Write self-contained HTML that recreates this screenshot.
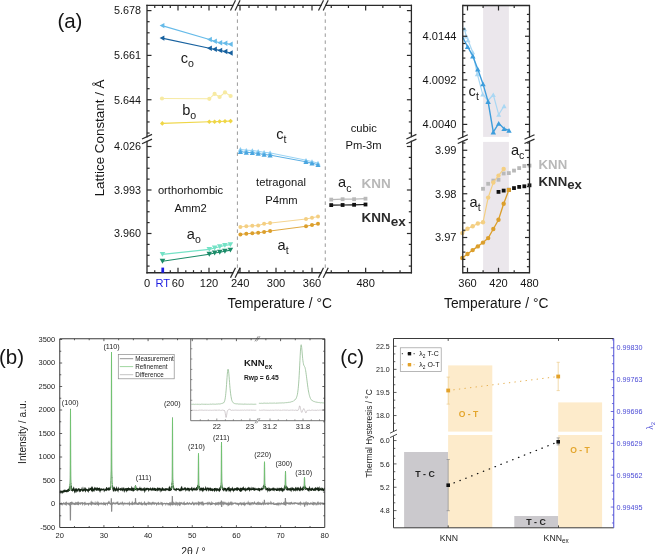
<!DOCTYPE html>
<html><head><meta charset="utf-8"><style>
html,body{margin:0;padding:0;background:#fff;}
svg{display:block;filter:blur(0.3px);font-family:"Liberation Sans", sans-serif;}
</style></head><body>
<svg width="656" height="554" viewBox="0 0 656 554">
<rect width="656" height="554" fill="#fff"/>
<line x1="237.4" y1="12.4" x2="237.4" y2="271.75" stroke="#999999" stroke-width="1" stroke-dasharray="3.5 3.5"/>
<line x1="325.25" y1="12.4" x2="325.25" y2="271.75" stroke="#999999" stroke-width="1" stroke-dasharray="3.5 3.5"/>
<polyline points="162,25.6 209.5,39.5 214.5,41.2 219.8,42.8 225,43.2 230.3,44.2" fill="none" stroke="#66bbe9" stroke-width="1.1" />
<path d="M159.62,25.6L164.38,22.9L164.38,28.3Z" fill="#66bbe9"/>
<path d="M207.12,39.5L211.88,36.8L211.88,42.2Z" fill="#66bbe9"/>
<path d="M212.12,41.2L216.88,38.5L216.88,43.9Z" fill="#66bbe9"/>
<path d="M217.42,42.8L222.18,40.1L222.18,45.5Z" fill="#66bbe9"/>
<path d="M222.62,43.2L227.38,40.5L227.38,45.9Z" fill="#66bbe9"/>
<path d="M227.92,44.2L232.68,41.5L232.68,46.9Z" fill="#66bbe9"/>
<polyline points="162,38.1 209.5,48.2 214.5,49.2 219.8,50.4 225,51.5 230.3,53" fill="none" stroke="#17619f" stroke-width="1.1" />
<path d="M159.62,38.1L164.38,35.4L164.38,40.8Z" fill="#17619f"/>
<path d="M207.12,48.2L211.88,45.5L211.88,50.9Z" fill="#17619f"/>
<path d="M212.12,49.2L216.88,46.5L216.88,51.9Z" fill="#17619f"/>
<path d="M217.42,50.4L222.18,47.7L222.18,53.1Z" fill="#17619f"/>
<path d="M222.62,51.5L227.38,48.8L227.38,54.2Z" fill="#17619f"/>
<path d="M227.92,53L232.68,50.3L232.68,55.7Z" fill="#17619f"/>
<polyline points="162,98.5 209.3,98.8 214.6,93.9 219.6,97 225,92.4 230.6,96" fill="none" stroke="#f7eaa2" stroke-width="1.1" />
<circle cx="162" cy="98.5" r="2.1" fill="#f7eaa2"/>
<circle cx="209.3" cy="98.8" r="2.1" fill="#f7eaa2"/>
<circle cx="214.6" cy="93.9" r="2.1" fill="#f7eaa2"/>
<circle cx="219.6" cy="97" r="2.1" fill="#f7eaa2"/>
<circle cx="225" cy="92.4" r="2.1" fill="#f7eaa2"/>
<circle cx="230.6" cy="96" r="2.1" fill="#f7eaa2"/>
<polyline points="162.3,123.4 209.3,121.8 214.6,121.7 219.6,121.5 225,121.3 230.6,121.1" fill="none" stroke="#efd646" stroke-width="1.1" />
<path d="M162.3,121.1L164.6,123.4L162.3,125.7L160,123.4Z" fill="#efd646"/>
<path d="M209.3,119.5L211.6,121.8L209.3,124.1L207,121.8Z" fill="#efd646"/>
<path d="M214.6,119.4L216.9,121.7L214.6,124L212.3,121.7Z" fill="#efd646"/>
<path d="M219.6,119.2L221.9,121.5L219.6,123.8L217.3,121.5Z" fill="#efd646"/>
<path d="M225,119L227.3,121.3L225,123.6L222.7,121.3Z" fill="#efd646"/>
<path d="M230.6,118.8L232.9,121.1L230.6,123.4L228.3,121.1Z" fill="#efd646"/>
<polyline points="162.5,254.4 209.3,249.4 214.65,248 219.8,246.8 224.9,245.4 230.4,244.6" fill="none" stroke="#74e2c6" stroke-width="1.1" />
<path d="M162.5,256.86L165.3,251.94L159.7,251.94Z" fill="#74e2c6"/>
<path d="M209.3,251.86L212.1,246.94L206.5,246.94Z" fill="#74e2c6"/>
<path d="M214.65,250.46L217.45,245.54L211.85,245.54Z" fill="#74e2c6"/>
<path d="M219.8,249.26L222.6,244.34L217,244.34Z" fill="#74e2c6"/>
<path d="M224.9,247.86L227.7,242.94L222.1,242.94Z" fill="#74e2c6"/>
<path d="M230.4,247.06L233.2,242.14L227.6,242.14Z" fill="#74e2c6"/>
<polyline points="162.5,261.2 209.3,254.2 214.65,253 219.8,252.3 224.9,251.2 230.4,250.1" fill="none" stroke="#1b8c69" stroke-width="1.1" />
<path d="M162.5,263.66L165.3,258.74L159.7,258.74Z" fill="#1b8c69"/>
<path d="M209.3,256.66L212.1,251.74L206.5,251.74Z" fill="#1b8c69"/>
<path d="M214.65,255.46L217.45,250.54L211.85,250.54Z" fill="#1b8c69"/>
<path d="M219.8,254.76L222.6,249.84L217,249.84Z" fill="#1b8c69"/>
<path d="M224.9,253.66L227.7,248.74L222.1,248.74Z" fill="#1b8c69"/>
<path d="M230.4,252.56L233.2,247.64L227.6,247.64Z" fill="#1b8c69"/>
<polyline points="240.4,149.4 246.3,150.2 252.3,150.5 258.2,151.3 264.1,152.3 270.1,152.9 306,160.2 312,161.6 318,163.1" fill="none" stroke="#8ccdf2" stroke-width="0.9" />
<path d="M240.4,147.11L243,151.69L237.8,151.69Z" fill="#8ccdf2"/>
<path d="M246.3,147.91L248.9,152.49L243.7,152.49Z" fill="#8ccdf2"/>
<path d="M252.3,148.21L254.9,152.79L249.7,152.79Z" fill="#8ccdf2"/>
<path d="M258.2,149.01L260.8,153.59L255.6,153.59Z" fill="#8ccdf2"/>
<path d="M264.1,150.01L266.7,154.59L261.5,154.59Z" fill="#8ccdf2"/>
<path d="M270.1,150.61L272.7,155.19L267.5,155.19Z" fill="#8ccdf2"/>
<path d="M306,157.91L308.6,162.49L303.4,162.49Z" fill="#8ccdf2"/>
<path d="M312,159.31L314.6,163.89L309.4,163.89Z" fill="#8ccdf2"/>
<path d="M318,160.81L320.6,165.39L315.4,165.39Z" fill="#8ccdf2"/>
<polyline points="240.4,151.6 246.3,152.4 252.3,152.7 258.2,153.5 264.1,154.5 270.1,155.1 306,161.8 312,163.2 318,164.7" fill="none" stroke="#4aa6e0" stroke-width="0.9" />
<path d="M240.4,149.31L243,153.89L237.8,153.89Z" fill="#4aa6e0"/>
<path d="M246.3,150.11L248.9,154.69L243.7,154.69Z" fill="#4aa6e0"/>
<path d="M252.3,150.41L254.9,154.99L249.7,154.99Z" fill="#4aa6e0"/>
<path d="M258.2,151.21L260.8,155.79L255.6,155.79Z" fill="#4aa6e0"/>
<path d="M264.1,152.21L266.7,156.79L261.5,156.79Z" fill="#4aa6e0"/>
<path d="M270.1,152.81L272.7,157.39L267.5,157.39Z" fill="#4aa6e0"/>
<path d="M306,159.51L308.6,164.09L303.4,164.09Z" fill="#4aa6e0"/>
<path d="M312,160.91L314.6,165.49L309.4,165.49Z" fill="#4aa6e0"/>
<path d="M318,162.41L320.6,166.99L315.4,166.99Z" fill="#4aa6e0"/>
<polyline points="240.4,226.9 246.3,226.3 252.3,225.8 258.2,225.5 264.1,223.8 270.1,223.1 306,219 312,217.8 318,216.5" fill="none" stroke="#f4cf82" stroke-width="0.9" />
<circle cx="240.4" cy="226.9" r="2" fill="#f4cf82"/>
<circle cx="246.3" cy="226.3" r="2" fill="#f4cf82"/>
<circle cx="252.3" cy="225.8" r="2" fill="#f4cf82"/>
<circle cx="258.2" cy="225.5" r="2" fill="#f4cf82"/>
<circle cx="264.1" cy="223.8" r="2" fill="#f4cf82"/>
<circle cx="270.1" cy="223.1" r="2" fill="#f4cf82"/>
<circle cx="306" cy="219" r="2" fill="#f4cf82"/>
<circle cx="312" cy="217.8" r="2" fill="#f4cf82"/>
<circle cx="318" cy="216.5" r="2" fill="#f4cf82"/>
<polyline points="240.4,234.4 246.3,233.8 252.3,233.3 258.2,232.8 264.1,231.9 270.1,231 306,226.3 312,225 318,223.8" fill="none" stroke="#dc9f2c" stroke-width="0.9" />
<circle cx="240.4" cy="234.4" r="2" fill="#dc9f2c"/>
<circle cx="246.3" cy="233.8" r="2" fill="#dc9f2c"/>
<circle cx="252.3" cy="233.3" r="2" fill="#dc9f2c"/>
<circle cx="258.2" cy="232.8" r="2" fill="#dc9f2c"/>
<circle cx="264.1" cy="231.9" r="2" fill="#dc9f2c"/>
<circle cx="270.1" cy="231" r="2" fill="#dc9f2c"/>
<circle cx="306" cy="226.3" r="2" fill="#dc9f2c"/>
<circle cx="312" cy="225" r="2" fill="#dc9f2c"/>
<circle cx="318" cy="223.8" r="2" fill="#dc9f2c"/>
<polyline points="331.2,199.6 342.6,199.2 354.1,199.2 365.5,198.7" fill="none" stroke="#b9b9b9" stroke-width="1.2" />
<rect x="329.3" y="197.7" width="3.8" height="3.8" fill="#b9b9b9" />
<rect x="340.7" y="197.3" width="3.8" height="3.8" fill="#b9b9b9" />
<rect x="352.2" y="197.3" width="3.8" height="3.8" fill="#b9b9b9" />
<rect x="363.6" y="196.8" width="3.8" height="3.8" fill="#b9b9b9" />
<polyline points="331.2,205.1 342.6,205 354.1,204.8 365.5,204.5" fill="none" stroke="#111" stroke-width="1.2" />
<rect x="329.3" y="203.2" width="3.8" height="3.8" fill="#111" />
<rect x="340.7" y="203.1" width="3.8" height="3.8" fill="#111" />
<rect x="352.2" y="202.9" width="3.8" height="3.8" fill="#111" />
<rect x="363.6" y="202.6" width="3.8" height="3.8" fill="#111" />
<line x1="147" y1="5.4" x2="232.6" y2="5.4" stroke="#2a2a2a" stroke-width="1.3" stroke-linecap="square"/>
<line x1="237.7" y1="5.4" x2="320.9" y2="5.4" stroke="#2a2a2a" stroke-width="1.3" stroke-linecap="square"/>
<line x1="325.8" y1="5.4" x2="411.4" y2="5.4" stroke="#2a2a2a" stroke-width="1.3" stroke-linecap="square"/>
<line x1="147" y1="272.75" x2="232.6" y2="272.75" stroke="#2a2a2a" stroke-width="1.3" stroke-linecap="square"/>
<line x1="237.7" y1="272.75" x2="320.9" y2="272.75" stroke="#2a2a2a" stroke-width="1.3" stroke-linecap="square"/>
<line x1="325.8" y1="272.75" x2="411.4" y2="272.75" stroke="#2a2a2a" stroke-width="1.3" stroke-linecap="square"/>
<line x1="147" y1="5.4" x2="147" y2="136.8" stroke="#2a2a2a" stroke-width="1.3" stroke-linecap="square"/>
<line x1="147" y1="141.3" x2="147" y2="272.75" stroke="#2a2a2a" stroke-width="1.3" stroke-linecap="square"/>
<line x1="411.4" y1="5.4" x2="411.4" y2="136.6" stroke="#2a2a2a" stroke-width="1.3" stroke-linecap="square"/>
<line x1="411.4" y1="141.3" x2="411.4" y2="272.75" stroke="#2a2a2a" stroke-width="1.3" stroke-linecap="square"/>
<line x1="230.5" y1="10.5" x2="235.5" y2="0.3" stroke="#2a2a2a" stroke-width="1.2" />
<line x1="235.1" y1="10.5" x2="240.1" y2="0.3" stroke="#2a2a2a" stroke-width="1.2" />
<line x1="318.5" y1="10.5" x2="323.5" y2="0.3" stroke="#2a2a2a" stroke-width="1.2" />
<line x1="323.2" y1="10.5" x2="328.2" y2="0.3" stroke="#2a2a2a" stroke-width="1.2" />
<line x1="230.5" y1="277.85" x2="235.5" y2="267.65" stroke="#2a2a2a" stroke-width="1.2" />
<line x1="235.1" y1="277.85" x2="240.1" y2="267.65" stroke="#2a2a2a" stroke-width="1.2" />
<line x1="318.5" y1="277.85" x2="323.5" y2="267.65" stroke="#2a2a2a" stroke-width="1.2" />
<line x1="323.2" y1="277.85" x2="328.2" y2="267.65" stroke="#2a2a2a" stroke-width="1.2" />
<line x1="142" y1="139" x2="152" y2="134.4" stroke="#2a2a2a" stroke-width="1.2" />
<line x1="142" y1="143.75" x2="152" y2="139.15" stroke="#2a2a2a" stroke-width="1.2" />
<line x1="406.4" y1="139" x2="416.4" y2="134.4" stroke="#2a2a2a" stroke-width="1.2" />
<line x1="406.4" y1="143.75" x2="416.4" y2="139.15" stroke="#2a2a2a" stroke-width="1.2" />
<line x1="178" y1="5.4" x2="178" y2="10.4" stroke="#2a2a2a" stroke-width="1.2" />
<line x1="178" y1="272.75" x2="178" y2="267.75" stroke="#2a2a2a" stroke-width="1.2" />
<line x1="209" y1="5.4" x2="209" y2="10.4" stroke="#2a2a2a" stroke-width="1.2" />
<line x1="209" y1="272.75" x2="209" y2="267.75" stroke="#2a2a2a" stroke-width="1.2" />
<line x1="240" y1="5.4" x2="240" y2="10.4" stroke="#2a2a2a" stroke-width="1.2" />
<line x1="240" y1="272.75" x2="240" y2="267.75" stroke="#2a2a2a" stroke-width="1.2" />
<line x1="276" y1="5.4" x2="276" y2="10.4" stroke="#2a2a2a" stroke-width="1.2" />
<line x1="276" y1="272.75" x2="276" y2="267.75" stroke="#2a2a2a" stroke-width="1.2" />
<line x1="312" y1="5.4" x2="312" y2="10.4" stroke="#2a2a2a" stroke-width="1.2" />
<line x1="312" y1="272.75" x2="312" y2="267.75" stroke="#2a2a2a" stroke-width="1.2" />
<line x1="365.65" y1="5.4" x2="365.65" y2="10.4" stroke="#2a2a2a" stroke-width="1.2" />
<line x1="365.65" y1="272.75" x2="365.65" y2="267.75" stroke="#2a2a2a" stroke-width="1.2" />
<line x1="154.75" y1="5.4" x2="154.75" y2="8" stroke="#2a2a2a" stroke-width="1.2" />
<line x1="154.75" y1="272.75" x2="154.75" y2="270.15" stroke="#2a2a2a" stroke-width="1.2" />
<line x1="162.5" y1="5.4" x2="162.5" y2="8" stroke="#2a2a2a" stroke-width="1.2" />
<line x1="162.5" y1="272.75" x2="162.5" y2="270.15" stroke="#2a2a2a" stroke-width="1.2" />
<line x1="170.3" y1="5.4" x2="170.3" y2="8" stroke="#2a2a2a" stroke-width="1.2" />
<line x1="170.3" y1="272.75" x2="170.3" y2="270.15" stroke="#2a2a2a" stroke-width="1.2" />
<line x1="185.8" y1="5.4" x2="185.8" y2="8" stroke="#2a2a2a" stroke-width="1.2" />
<line x1="185.8" y1="272.75" x2="185.8" y2="270.15" stroke="#2a2a2a" stroke-width="1.2" />
<line x1="193.5" y1="5.4" x2="193.5" y2="8" stroke="#2a2a2a" stroke-width="1.2" />
<line x1="193.5" y1="272.75" x2="193.5" y2="270.15" stroke="#2a2a2a" stroke-width="1.2" />
<line x1="201.3" y1="5.4" x2="201.3" y2="8" stroke="#2a2a2a" stroke-width="1.2" />
<line x1="201.3" y1="272.75" x2="201.3" y2="270.15" stroke="#2a2a2a" stroke-width="1.2" />
<line x1="216.8" y1="5.4" x2="216.8" y2="8" stroke="#2a2a2a" stroke-width="1.2" />
<line x1="216.8" y1="272.75" x2="216.8" y2="270.15" stroke="#2a2a2a" stroke-width="1.2" />
<line x1="224.5" y1="5.4" x2="224.5" y2="8" stroke="#2a2a2a" stroke-width="1.2" />
<line x1="224.5" y1="272.75" x2="224.5" y2="270.15" stroke="#2a2a2a" stroke-width="1.2" />
<line x1="249" y1="5.4" x2="249" y2="8" stroke="#2a2a2a" stroke-width="1.2" />
<line x1="249" y1="272.75" x2="249" y2="270.15" stroke="#2a2a2a" stroke-width="1.2" />
<line x1="258" y1="5.4" x2="258" y2="8" stroke="#2a2a2a" stroke-width="1.2" />
<line x1="258" y1="272.75" x2="258" y2="270.15" stroke="#2a2a2a" stroke-width="1.2" />
<line x1="267" y1="5.4" x2="267" y2="8" stroke="#2a2a2a" stroke-width="1.2" />
<line x1="267" y1="272.75" x2="267" y2="270.15" stroke="#2a2a2a" stroke-width="1.2" />
<line x1="285" y1="5.4" x2="285" y2="8" stroke="#2a2a2a" stroke-width="1.2" />
<line x1="285" y1="272.75" x2="285" y2="270.15" stroke="#2a2a2a" stroke-width="1.2" />
<line x1="294" y1="5.4" x2="294" y2="8" stroke="#2a2a2a" stroke-width="1.2" />
<line x1="294" y1="272.75" x2="294" y2="270.15" stroke="#2a2a2a" stroke-width="1.2" />
<line x1="303" y1="5.4" x2="303" y2="8" stroke="#2a2a2a" stroke-width="1.2" />
<line x1="303" y1="272.75" x2="303" y2="270.15" stroke="#2a2a2a" stroke-width="1.2" />
<line x1="331.25" y1="5.4" x2="331.25" y2="8" stroke="#2a2a2a" stroke-width="1.2" />
<line x1="331.25" y1="272.75" x2="331.25" y2="270.15" stroke="#2a2a2a" stroke-width="1.2" />
<line x1="348.45" y1="5.4" x2="348.45" y2="8" stroke="#2a2a2a" stroke-width="1.2" />
<line x1="348.45" y1="272.75" x2="348.45" y2="270.15" stroke="#2a2a2a" stroke-width="1.2" />
<line x1="382.85" y1="5.4" x2="382.85" y2="8" stroke="#2a2a2a" stroke-width="1.2" />
<line x1="382.85" y1="272.75" x2="382.85" y2="270.15" stroke="#2a2a2a" stroke-width="1.2" />
<line x1="400.05" y1="5.4" x2="400.05" y2="8" stroke="#2a2a2a" stroke-width="1.2" />
<line x1="400.05" y1="272.75" x2="400.05" y2="270.15" stroke="#2a2a2a" stroke-width="1.2" />
<line x1="147" y1="10.6" x2="151.5" y2="10.6" stroke="#2a2a2a" stroke-width="1.2" />
<line x1="411.4" y1="10.6" x2="406.9" y2="10.6" stroke="#2a2a2a" stroke-width="1.2" />
<line x1="147" y1="55.4" x2="151.5" y2="55.4" stroke="#2a2a2a" stroke-width="1.2" />
<line x1="411.4" y1="55.4" x2="406.9" y2="55.4" stroke="#2a2a2a" stroke-width="1.2" />
<line x1="147" y1="99.75" x2="151.5" y2="99.75" stroke="#2a2a2a" stroke-width="1.2" />
<line x1="411.4" y1="99.75" x2="406.9" y2="99.75" stroke="#2a2a2a" stroke-width="1.2" />
<line x1="147" y1="146.5" x2="151.5" y2="146.5" stroke="#2a2a2a" stroke-width="1.2" />
<line x1="411.4" y1="146.5" x2="406.9" y2="146.5" stroke="#2a2a2a" stroke-width="1.2" />
<line x1="147" y1="190" x2="151.5" y2="190" stroke="#2a2a2a" stroke-width="1.2" />
<line x1="411.4" y1="190" x2="406.9" y2="190" stroke="#2a2a2a" stroke-width="1.2" />
<line x1="147" y1="233.5" x2="151.5" y2="233.5" stroke="#2a2a2a" stroke-width="1.2" />
<line x1="411.4" y1="233.5" x2="406.9" y2="233.5" stroke="#2a2a2a" stroke-width="1.2" />
<line x1="147" y1="21.7" x2="149.6" y2="21.7" stroke="#2a2a2a" stroke-width="1.2" />
<line x1="411.4" y1="21.7" x2="408.8" y2="21.7" stroke="#2a2a2a" stroke-width="1.2" />
<line x1="147" y1="32.8" x2="149.6" y2="32.8" stroke="#2a2a2a" stroke-width="1.2" />
<line x1="411.4" y1="32.8" x2="408.8" y2="32.8" stroke="#2a2a2a" stroke-width="1.2" />
<line x1="147" y1="43.9" x2="149.6" y2="43.9" stroke="#2a2a2a" stroke-width="1.2" />
<line x1="411.4" y1="43.9" x2="408.8" y2="43.9" stroke="#2a2a2a" stroke-width="1.2" />
<line x1="147" y1="66.5" x2="149.6" y2="66.5" stroke="#2a2a2a" stroke-width="1.2" />
<line x1="411.4" y1="66.5" x2="408.8" y2="66.5" stroke="#2a2a2a" stroke-width="1.2" />
<line x1="147" y1="77.6" x2="149.6" y2="77.6" stroke="#2a2a2a" stroke-width="1.2" />
<line x1="411.4" y1="77.6" x2="408.8" y2="77.6" stroke="#2a2a2a" stroke-width="1.2" />
<line x1="147" y1="88.7" x2="149.6" y2="88.7" stroke="#2a2a2a" stroke-width="1.2" />
<line x1="411.4" y1="88.7" x2="408.8" y2="88.7" stroke="#2a2a2a" stroke-width="1.2" />
<line x1="147" y1="110.85" x2="149.6" y2="110.85" stroke="#2a2a2a" stroke-width="1.2" />
<line x1="411.4" y1="110.85" x2="408.8" y2="110.85" stroke="#2a2a2a" stroke-width="1.2" />
<line x1="147" y1="121.95" x2="149.6" y2="121.95" stroke="#2a2a2a" stroke-width="1.2" />
<line x1="411.4" y1="121.95" x2="408.8" y2="121.95" stroke="#2a2a2a" stroke-width="1.2" />
<line x1="147" y1="133.05" x2="149.6" y2="133.05" stroke="#2a2a2a" stroke-width="1.2" />
<line x1="411.4" y1="133.05" x2="408.8" y2="133.05" stroke="#2a2a2a" stroke-width="1.2" />
<line x1="147" y1="157.4" x2="149.6" y2="157.4" stroke="#2a2a2a" stroke-width="1.2" />
<line x1="411.4" y1="157.4" x2="408.8" y2="157.4" stroke="#2a2a2a" stroke-width="1.2" />
<line x1="147" y1="168.25" x2="149.6" y2="168.25" stroke="#2a2a2a" stroke-width="1.2" />
<line x1="411.4" y1="168.25" x2="408.8" y2="168.25" stroke="#2a2a2a" stroke-width="1.2" />
<line x1="147" y1="179.1" x2="149.6" y2="179.1" stroke="#2a2a2a" stroke-width="1.2" />
<line x1="411.4" y1="179.1" x2="408.8" y2="179.1" stroke="#2a2a2a" stroke-width="1.2" />
<line x1="147" y1="200.9" x2="149.6" y2="200.9" stroke="#2a2a2a" stroke-width="1.2" />
<line x1="411.4" y1="200.9" x2="408.8" y2="200.9" stroke="#2a2a2a" stroke-width="1.2" />
<line x1="147" y1="211.75" x2="149.6" y2="211.75" stroke="#2a2a2a" stroke-width="1.2" />
<line x1="411.4" y1="211.75" x2="408.8" y2="211.75" stroke="#2a2a2a" stroke-width="1.2" />
<line x1="147" y1="222.6" x2="149.6" y2="222.6" stroke="#2a2a2a" stroke-width="1.2" />
<line x1="411.4" y1="222.6" x2="408.8" y2="222.6" stroke="#2a2a2a" stroke-width="1.2" />
<line x1="147" y1="244.4" x2="149.6" y2="244.4" stroke="#2a2a2a" stroke-width="1.2" />
<line x1="411.4" y1="244.4" x2="408.8" y2="244.4" stroke="#2a2a2a" stroke-width="1.2" />
<line x1="147" y1="255.25" x2="149.6" y2="255.25" stroke="#2a2a2a" stroke-width="1.2" />
<line x1="411.4" y1="255.25" x2="408.8" y2="255.25" stroke="#2a2a2a" stroke-width="1.2" />
<line x1="147" y1="266.1" x2="149.6" y2="266.1" stroke="#2a2a2a" stroke-width="1.2" />
<line x1="411.4" y1="266.1" x2="408.8" y2="266.1" stroke="#2a2a2a" stroke-width="1.2" />
<rect x="161.4" y="267.6" width="2.7" height="5.2" fill="#1c1ce0" />
<text x="141" y="14.4" font-size="10.8" text-anchor="end" fill="#151515" >5.678</text>
<text x="141" y="59.2" font-size="10.8" text-anchor="end" fill="#151515" >5.661</text>
<text x="141" y="103.55" font-size="10.8" text-anchor="end" fill="#151515" >5.644</text>
<text x="141" y="150.3" font-size="10.8" text-anchor="end" fill="#151515" >4.026</text>
<text x="141" y="193.8" font-size="10.8" text-anchor="end" fill="#151515" >3.993</text>
<text x="141" y="237.3" font-size="10.8" text-anchor="end" fill="#151515" >3.960</text>
<text x="147" y="287.3" font-size="11.1" text-anchor="middle" fill="#151515" >0</text>
<text x="178" y="287.3" font-size="11.1" text-anchor="middle" fill="#151515" >60</text>
<text x="209" y="287.3" font-size="11.1" text-anchor="middle" fill="#151515" >120</text>
<text x="240.2" y="287.3" font-size="11.1" text-anchor="middle" fill="#151515" >240</text>
<text x="276" y="287.3" font-size="11.1" text-anchor="middle" fill="#151515" >300</text>
<text x="312" y="287.3" font-size="11.1" text-anchor="middle" fill="#151515" >360</text>
<text x="365.65" y="287.3" font-size="11.1" text-anchor="middle" fill="#151515" >480</text>
<text x="162.75" y="287.3" font-size="11.1" text-anchor="middle" fill="#1c1ce0" >RT</text>
<text x="279.75" y="308.2" font-size="13.8" text-anchor="middle" fill="#151515" >Temperature / °C</text>
<text x="0" y="0" font-size="13.4" text-anchor="middle" fill="#151515" transform="translate(103.6,137.9) rotate(-90)">Lattice Constant / Å</text>
<text x="57.4" y="27.9" font-size="20.5" fill="#151515" >(a)</text>
<text x="180.8" y="62.8" font-size="14.6" fill="#1a1a1a">c<tspan font-size="10.6" dy="4.2">o</tspan></text>
<text x="182.2" y="114.5" font-size="14.6" fill="#1a1a1a">b<tspan font-size="10.6" dy="4.2">o</tspan></text>
<text x="186.8" y="238.6" font-size="14.6" fill="#1a1a1a">a<tspan font-size="10.6" dy="4.2">o</tspan></text>
<text x="276.2" y="138.6" font-size="14.6" fill="#1a1a1a">c<tspan font-size="10.6" dy="4.2">t</tspan></text>
<text x="277.5" y="249.9" font-size="14.6" fill="#1a1a1a">a<tspan font-size="10.6" dy="4.2">t</tspan></text>
<text x="338.1" y="187.4" font-size="14.6" fill="#1a1a1a">a<tspan font-size="10.6" dy="4.2">c</tspan></text>
<text x="190.55" y="194.4" font-size="11.2" text-anchor="middle" fill="#151515" >orthorhombic</text>
<text x="190.6" y="211.5" font-size="11.2" text-anchor="middle" fill="#151515" >Amm2</text>
<text x="281" y="186.3" font-size="11.2" text-anchor="middle" fill="#151515" >tetragonal</text>
<text x="281.4" y="203.5" font-size="11.2" text-anchor="middle" fill="#151515" >P4mm</text>
<text x="363.7" y="132.3" font-size="11.2" text-anchor="middle" fill="#151515" >cubic</text>
<text x="363.6" y="148.8" font-size="11.2" text-anchor="middle" fill="#151515" >Pm-3m</text>
<text x="361.4" y="188" font-size="13.5" font-weight="bold" fill="#b8b8b8" >KNN</text>
<text x="361.4" y="222.0" font-size="13.5" font-weight="bold" fill="#2b2b2b">KNN<tspan dy="3.8">ex</tspan></text>
<rect x="483.1" y="5.5" width="25.8" height="131.4" fill="#ebe7ec" />
<rect x="483.1" y="141.9" width="25.8" height="130.85" fill="#ebe7ec" />
<rect x="481.1" y="186.9" width="3.8" height="3.8" fill="#b9b9b9" />
<rect x="486.27" y="181.9" width="3.8" height="3.8" fill="#b9b9b9" />
<rect x="491.44" y="178.7" width="3.8" height="3.8" fill="#b9b9b9" />
<rect x="496.6" y="177.9" width="3.8" height="3.8" fill="#b9b9b9" />
<rect x="501.77" y="171.6" width="3.8" height="3.8" fill="#b9b9b9" />
<rect x="506.94" y="171.2" width="3.8" height="3.8" fill="#b9b9b9" />
<rect x="512.1" y="168.7" width="3.8" height="3.8" fill="#b9b9b9" />
<rect x="517.27" y="166.2" width="3.8" height="3.8" fill="#b9b9b9" />
<rect x="522.44" y="164.1" width="3.8" height="3.8" fill="#b9b9b9" />
<rect x="527.6" y="163.7" width="3.8" height="3.8" fill="#b9b9b9" />
<rect x="496.6" y="190" width="3.8" height="3.8" fill="#111" />
<rect x="501.77" y="188.7" width="3.8" height="3.8" fill="#111" />
<rect x="506.94" y="187.9" width="3.8" height="3.8" fill="#111" />
<rect x="512.1" y="186.2" width="3.8" height="3.8" fill="#111" />
<rect x="517.27" y="185" width="3.8" height="3.8" fill="#111" />
<rect x="522.44" y="184.4" width="3.8" height="3.8" fill="#111" />
<rect x="527.6" y="183.4" width="3.8" height="3.8" fill="#111" />
<polyline points="462.33,233.1 467.5,228.8 472.67,226.3 477.83,223.5 483,222.3 488.17,197.6 493.33,182.5 498.5,175.6 503.67,169" fill="none" stroke="#f4cf82" stroke-width="1.2" />
<circle cx="462.33" cy="233.1" r="2.2" fill="#f4cf82"/>
<circle cx="467.5" cy="228.8" r="2.2" fill="#f4cf82"/>
<circle cx="472.67" cy="226.3" r="2.2" fill="#f4cf82"/>
<circle cx="477.83" cy="223.5" r="2.2" fill="#f4cf82"/>
<circle cx="483" cy="222.3" r="2.2" fill="#f4cf82"/>
<circle cx="488.17" cy="197.6" r="2.2" fill="#f4cf82"/>
<circle cx="493.33" cy="182.5" r="2.2" fill="#f4cf82"/>
<circle cx="498.5" cy="175.6" r="2.2" fill="#f4cf82"/>
<circle cx="503.67" cy="169" r="2.2" fill="#f4cf82"/>
<polyline points="462.33,258 467.5,254 472.67,250.1 477.83,246.4 483,242.6 488.17,238.1 493.33,229 498.5,219.8 503.67,203.8 508.84,190" fill="none" stroke="#dc9f2c" stroke-width="1.3" />
<circle cx="462.33" cy="258" r="2.2" fill="#dc9f2c"/>
<circle cx="467.5" cy="254" r="2.2" fill="#dc9f2c"/>
<circle cx="472.67" cy="250.1" r="2.2" fill="#dc9f2c"/>
<circle cx="477.83" cy="246.4" r="2.2" fill="#dc9f2c"/>
<circle cx="483" cy="242.6" r="2.2" fill="#dc9f2c"/>
<circle cx="488.17" cy="238.1" r="2.2" fill="#dc9f2c"/>
<circle cx="493.33" cy="229" r="2.2" fill="#dc9f2c"/>
<circle cx="498.5" cy="219.8" r="2.2" fill="#dc9f2c"/>
<circle cx="503.67" cy="203.8" r="2.2" fill="#dc9f2c"/>
<rect x="506.84" y="188" width="4" height="4" fill="#dc9f2c" />
<polyline points="462.6,28.5 464.5,29 466.2,36.2 468,40 472.6,52 477.3,74 482.7,94.3 488,100.5 493.3,94.8 498.7,114.6 504.1,106" fill="none" stroke="#a9d7f3" stroke-width="1.2" />
<path d="M464.5,26.8L467,31.2L462,31.2Z" fill="#a9d7f3"/>
<path d="M466.2,34L468.7,38.4L463.7,38.4Z" fill="#a9d7f3"/>
<path d="M468,37.8L470.5,42.2L465.5,42.2Z" fill="#a9d7f3"/>
<path d="M472.6,49.8L475.1,54.2L470.1,54.2Z" fill="#a9d7f3"/>
<path d="M477.3,71.8L479.8,76.2L474.8,76.2Z" fill="#a9d7f3"/>
<path d="M482.7,92.1L485.2,96.5L480.2,96.5Z" fill="#a9d7f3"/>
<path d="M488,98.3L490.5,102.7L485.5,102.7Z" fill="#a9d7f3"/>
<path d="M493.3,92.6L495.8,97L490.8,97Z" fill="#a9d7f3"/>
<path d="M498.7,112.4L501.2,116.8L496.2,116.8Z" fill="#a9d7f3"/>
<path d="M504.1,103.8L506.6,108.2L501.6,108.2Z" fill="#a9d7f3"/>
<polyline points="462.6,37 467.6,46.7 472.8,56 477.8,69.2 483,83.9 488.1,101.6 493.3,132 498.7,123.3 504.1,128.7 509,130.3" fill="none" stroke="#3d9ddc" stroke-width="1.4" />
<path d="M467.6,44.32L470.3,49.08L464.9,49.08Z" fill="#3d9ddc"/>
<path d="M472.8,53.62L475.5,58.38L470.1,58.38Z" fill="#3d9ddc"/>
<path d="M477.8,66.82L480.5,71.58L475.1,71.58Z" fill="#3d9ddc"/>
<path d="M483,81.52L485.7,86.28L480.3,86.28Z" fill="#3d9ddc"/>
<path d="M488.1,99.22L490.8,103.98L485.4,103.98Z" fill="#3d9ddc"/>
<path d="M493.3,129.62L496,134.38L490.6,134.38Z" fill="#3d9ddc"/>
<path d="M498.7,120.92L501.4,125.68L496,125.68Z" fill="#3d9ddc"/>
<path d="M504.1,126.32L506.8,131.08L501.4,131.08Z" fill="#3d9ddc"/>
<path d="M509,127.92L511.7,132.68L506.3,132.68Z" fill="#3d9ddc"/>
<line x1="462.75" y1="5.5" x2="529.5" y2="5.5" stroke="#2a2a2a" stroke-width="1.3" />
<line x1="462.75" y1="272.75" x2="529.5" y2="272.75" stroke="#2a2a2a" stroke-width="1.3" />
<line x1="462.75" y1="5.5" x2="462.75" y2="137" stroke="#2a2a2a" stroke-width="1.3" stroke-linecap="square"/>
<line x1="462.75" y1="141.5" x2="462.75" y2="272.75" stroke="#2a2a2a" stroke-width="1.3" stroke-linecap="square"/>
<line x1="529.5" y1="5.5" x2="529.5" y2="137" stroke="#2a2a2a" stroke-width="1.3" stroke-linecap="square"/>
<line x1="529.5" y1="141.5" x2="529.5" y2="272.75" stroke="#2a2a2a" stroke-width="1.3" stroke-linecap="square"/>
<line x1="457.75" y1="139.2" x2="467.75" y2="134.8" stroke="#2a2a2a" stroke-width="1.2" />
<line x1="457.75" y1="143.5" x2="467.75" y2="139.1" stroke="#2a2a2a" stroke-width="1.2" />
<line x1="524.5" y1="139.2" x2="534.5" y2="134.8" stroke="#2a2a2a" stroke-width="1.2" />
<line x1="524.5" y1="143.5" x2="534.5" y2="139.1" stroke="#2a2a2a" stroke-width="1.2" />
<line x1="467.5" y1="5.5" x2="467.5" y2="10.5" stroke="#2a2a2a" stroke-width="1.2" />
<line x1="467.5" y1="272.75" x2="467.5" y2="267.75" stroke="#2a2a2a" stroke-width="1.2" />
<line x1="498.5" y1="5.5" x2="498.5" y2="10.5" stroke="#2a2a2a" stroke-width="1.2" />
<line x1="498.5" y1="272.75" x2="498.5" y2="267.75" stroke="#2a2a2a" stroke-width="1.2" />
<line x1="483.1" y1="5.5" x2="483.1" y2="8.1" stroke="#2a2a2a" stroke-width="1.2" />
<line x1="483.1" y1="272.75" x2="483.1" y2="270.15" stroke="#2a2a2a" stroke-width="1.2" />
<line x1="514.2" y1="5.5" x2="514.2" y2="8.1" stroke="#2a2a2a" stroke-width="1.2" />
<line x1="514.2" y1="272.75" x2="514.2" y2="270.15" stroke="#2a2a2a" stroke-width="1.2" />
<line x1="462.75" y1="36.25" x2="467.25" y2="36.25" stroke="#2a2a2a" stroke-width="1.2" />
<line x1="529.5" y1="36.25" x2="525" y2="36.25" stroke="#2a2a2a" stroke-width="1.2" />
<line x1="462.75" y1="79.9" x2="467.25" y2="79.9" stroke="#2a2a2a" stroke-width="1.2" />
<line x1="529.5" y1="79.9" x2="525" y2="79.9" stroke="#2a2a2a" stroke-width="1.2" />
<line x1="462.75" y1="124.4" x2="467.25" y2="124.4" stroke="#2a2a2a" stroke-width="1.2" />
<line x1="529.5" y1="124.4" x2="525" y2="124.4" stroke="#2a2a2a" stroke-width="1.2" />
<line x1="462.75" y1="150.25" x2="467.25" y2="150.25" stroke="#2a2a2a" stroke-width="1.2" />
<line x1="529.5" y1="150.25" x2="525" y2="150.25" stroke="#2a2a2a" stroke-width="1.2" />
<line x1="462.75" y1="193.75" x2="467.25" y2="193.75" stroke="#2a2a2a" stroke-width="1.2" />
<line x1="529.5" y1="193.75" x2="525" y2="193.75" stroke="#2a2a2a" stroke-width="1.2" />
<line x1="462.75" y1="237.5" x2="467.25" y2="237.5" stroke="#2a2a2a" stroke-width="1.2" />
<line x1="529.5" y1="237.5" x2="525" y2="237.5" stroke="#2a2a2a" stroke-width="1.2" />
<line x1="462.75" y1="14.4" x2="465.35" y2="14.4" stroke="#2a2a2a" stroke-width="1.2" />
<line x1="529.5" y1="14.4" x2="526.9" y2="14.4" stroke="#2a2a2a" stroke-width="1.2" />
<line x1="462.75" y1="21.7" x2="465.35" y2="21.7" stroke="#2a2a2a" stroke-width="1.2" />
<line x1="529.5" y1="21.7" x2="526.9" y2="21.7" stroke="#2a2a2a" stroke-width="1.2" />
<line x1="462.75" y1="29" x2="465.35" y2="29" stroke="#2a2a2a" stroke-width="1.2" />
<line x1="529.5" y1="29" x2="526.9" y2="29" stroke="#2a2a2a" stroke-width="1.2" />
<line x1="462.75" y1="43.52" x2="465.35" y2="43.52" stroke="#2a2a2a" stroke-width="1.2" />
<line x1="529.5" y1="43.52" x2="526.9" y2="43.52" stroke="#2a2a2a" stroke-width="1.2" />
<line x1="462.75" y1="50.8" x2="465.35" y2="50.8" stroke="#2a2a2a" stroke-width="1.2" />
<line x1="529.5" y1="50.8" x2="526.9" y2="50.8" stroke="#2a2a2a" stroke-width="1.2" />
<line x1="462.75" y1="58.08" x2="465.35" y2="58.08" stroke="#2a2a2a" stroke-width="1.2" />
<line x1="529.5" y1="58.08" x2="526.9" y2="58.08" stroke="#2a2a2a" stroke-width="1.2" />
<line x1="462.75" y1="65.35" x2="465.35" y2="65.35" stroke="#2a2a2a" stroke-width="1.2" />
<line x1="529.5" y1="65.35" x2="526.9" y2="65.35" stroke="#2a2a2a" stroke-width="1.2" />
<line x1="462.75" y1="72.62" x2="465.35" y2="72.62" stroke="#2a2a2a" stroke-width="1.2" />
<line x1="529.5" y1="72.62" x2="526.9" y2="72.62" stroke="#2a2a2a" stroke-width="1.2" />
<line x1="462.75" y1="87.32" x2="465.35" y2="87.32" stroke="#2a2a2a" stroke-width="1.2" />
<line x1="529.5" y1="87.32" x2="526.9" y2="87.32" stroke="#2a2a2a" stroke-width="1.2" />
<line x1="462.75" y1="94.73" x2="465.35" y2="94.73" stroke="#2a2a2a" stroke-width="1.2" />
<line x1="529.5" y1="94.73" x2="526.9" y2="94.73" stroke="#2a2a2a" stroke-width="1.2" />
<line x1="462.75" y1="102.15" x2="465.35" y2="102.15" stroke="#2a2a2a" stroke-width="1.2" />
<line x1="529.5" y1="102.15" x2="526.9" y2="102.15" stroke="#2a2a2a" stroke-width="1.2" />
<line x1="462.75" y1="109.57" x2="465.35" y2="109.57" stroke="#2a2a2a" stroke-width="1.2" />
<line x1="529.5" y1="109.57" x2="526.9" y2="109.57" stroke="#2a2a2a" stroke-width="1.2" />
<line x1="462.75" y1="116.98" x2="465.35" y2="116.98" stroke="#2a2a2a" stroke-width="1.2" />
<line x1="529.5" y1="116.98" x2="526.9" y2="116.98" stroke="#2a2a2a" stroke-width="1.2" />
<line x1="462.75" y1="131.8" x2="465.35" y2="131.8" stroke="#2a2a2a" stroke-width="1.2" />
<line x1="529.5" y1="131.8" x2="526.9" y2="131.8" stroke="#2a2a2a" stroke-width="1.2" />
<line x1="462.75" y1="143" x2="465.35" y2="143" stroke="#2a2a2a" stroke-width="1.2" />
<line x1="529.5" y1="143" x2="526.9" y2="143" stroke="#2a2a2a" stroke-width="1.2" />
<line x1="462.75" y1="157.5" x2="465.35" y2="157.5" stroke="#2a2a2a" stroke-width="1.2" />
<line x1="529.5" y1="157.5" x2="526.9" y2="157.5" stroke="#2a2a2a" stroke-width="1.2" />
<line x1="462.75" y1="164.75" x2="465.35" y2="164.75" stroke="#2a2a2a" stroke-width="1.2" />
<line x1="529.5" y1="164.75" x2="526.9" y2="164.75" stroke="#2a2a2a" stroke-width="1.2" />
<line x1="462.75" y1="172" x2="465.35" y2="172" stroke="#2a2a2a" stroke-width="1.2" />
<line x1="529.5" y1="172" x2="526.9" y2="172" stroke="#2a2a2a" stroke-width="1.2" />
<line x1="462.75" y1="179.25" x2="465.35" y2="179.25" stroke="#2a2a2a" stroke-width="1.2" />
<line x1="529.5" y1="179.25" x2="526.9" y2="179.25" stroke="#2a2a2a" stroke-width="1.2" />
<line x1="462.75" y1="186.5" x2="465.35" y2="186.5" stroke="#2a2a2a" stroke-width="1.2" />
<line x1="529.5" y1="186.5" x2="526.9" y2="186.5" stroke="#2a2a2a" stroke-width="1.2" />
<line x1="462.75" y1="201.04" x2="465.35" y2="201.04" stroke="#2a2a2a" stroke-width="1.2" />
<line x1="529.5" y1="201.04" x2="526.9" y2="201.04" stroke="#2a2a2a" stroke-width="1.2" />
<line x1="462.75" y1="208.33" x2="465.35" y2="208.33" stroke="#2a2a2a" stroke-width="1.2" />
<line x1="529.5" y1="208.33" x2="526.9" y2="208.33" stroke="#2a2a2a" stroke-width="1.2" />
<line x1="462.75" y1="215.62" x2="465.35" y2="215.62" stroke="#2a2a2a" stroke-width="1.2" />
<line x1="529.5" y1="215.62" x2="526.9" y2="215.62" stroke="#2a2a2a" stroke-width="1.2" />
<line x1="462.75" y1="222.92" x2="465.35" y2="222.92" stroke="#2a2a2a" stroke-width="1.2" />
<line x1="529.5" y1="222.92" x2="526.9" y2="222.92" stroke="#2a2a2a" stroke-width="1.2" />
<line x1="462.75" y1="230.21" x2="465.35" y2="230.21" stroke="#2a2a2a" stroke-width="1.2" />
<line x1="529.5" y1="230.21" x2="526.9" y2="230.21" stroke="#2a2a2a" stroke-width="1.2" />
<line x1="462.75" y1="244.8" x2="465.35" y2="244.8" stroke="#2a2a2a" stroke-width="1.2" />
<line x1="529.5" y1="244.8" x2="526.9" y2="244.8" stroke="#2a2a2a" stroke-width="1.2" />
<line x1="462.75" y1="252.1" x2="465.35" y2="252.1" stroke="#2a2a2a" stroke-width="1.2" />
<line x1="529.5" y1="252.1" x2="526.9" y2="252.1" stroke="#2a2a2a" stroke-width="1.2" />
<line x1="462.75" y1="259.4" x2="465.35" y2="259.4" stroke="#2a2a2a" stroke-width="1.2" />
<line x1="529.5" y1="259.4" x2="526.9" y2="259.4" stroke="#2a2a2a" stroke-width="1.2" />
<line x1="462.75" y1="266.7" x2="465.35" y2="266.7" stroke="#2a2a2a" stroke-width="1.2" />
<line x1="529.5" y1="266.7" x2="526.9" y2="266.7" stroke="#2a2a2a" stroke-width="1.2" />
<text x="456.5" y="40.05" font-size="11.1" text-anchor="end" fill="#151515" >4.0144</text>
<text x="456.5" y="83.7" font-size="11.1" text-anchor="end" fill="#151515" >4.0092</text>
<text x="456.5" y="128.2" font-size="11.1" text-anchor="end" fill="#151515" >4.0040</text>
<text x="456.5" y="154.05" font-size="11.1" text-anchor="end" fill="#151515" >3.99</text>
<text x="456.5" y="197.55" font-size="11.1" text-anchor="end" fill="#151515" >3.98</text>
<text x="456.5" y="241.3" font-size="11.1" text-anchor="end" fill="#151515" >3.97</text>
<text x="467.5" y="287.3" font-size="11.1" text-anchor="middle" fill="#151515" >360</text>
<text x="498.5" y="287.3" font-size="11.1" text-anchor="middle" fill="#151515" >420</text>
<text x="529.5" y="287.3" font-size="11.1" text-anchor="middle" fill="#151515" >480</text>
<text x="496.25" y="308.2" font-size="13.8" text-anchor="middle" fill="#151515" >Temperature / °C</text>
<text x="468.6" y="95.6" font-size="14.6" fill="#1a1a1a">c<tspan font-size="10.6" dy="4.2">t</tspan></text>
<text x="469.6" y="206.8" font-size="14.6" fill="#1a1a1a">a<tspan font-size="10.6" dy="4.2">t</tspan></text>
<text x="510.9" y="155" font-size="14.6" fill="#1a1a1a">a<tspan font-size="10.6" dy="4.2">c</tspan></text>
<text x="538.6" y="168.5" font-size="13.2" font-weight="bold" fill="#b8b8b8" >KNN</text>
<text x="538.6" y="185.5" font-size="13.2" font-weight="bold" fill="#2b2b2b">KNN<tspan dy="3.8">ex</tspan></text>
<polyline points="59.75,503.37 60.06,503.74 60.37,503.7 60.68,503.41 60.99,503.49 61.3,503.52 61.61,503.22 61.91,503.38 62.22,504.38 62.53,503.81 62.84,503.62 63.15,503.89 63.46,503.42 63.77,502.83 64.08,503.06 64.39,503.93 64.7,503.65 65.01,503.49 65.32,504.03 65.62,503.05 65.93,503.49 66.24,504.27 66.55,503.01 66.86,503.74 67.17,503.97 67.48,503.63 67.79,503.23 68.1,503.17 68.41,503.44 68.72,504.18 69.03,503.88 69.17,504.17 69.23,503.84 69.29,504.51 69.33,503.49 69.34,503.34 69.4,504.73 69.45,503.93 69.51,503.16 69.56,503.53 69.62,503.4 69.64,503.32 69.67,503.35 69.73,503.02 69.78,503.36 69.84,503.89 69.89,504.42 69.95,503.14 69.95,502.88 70,503.67 70.06,503.31 70.11,503.1 70.17,503.93 70.22,504.56 70.26,505.96 70.28,507.95 70.33,514.38 70.39,520.55 70.44,520.05 70.5,513.37 70.56,506.32 70.57,505.03 70.61,503.37 70.67,501.95 70.72,502.31 70.78,503.18 70.83,503.28 70.88,503.45 70.89,503.76 70.94,503.18 71,503.43 71.05,504.75 71.11,503.49 71.16,503.49 71.19,503.31 71.22,503.83 71.27,503.44 71.33,503.64 71.38,503.63 71.44,503.82 71.49,504.13 71.5,503.17 71.55,502.93 71.6,503.76 71.66,503.32 71.71,504.81 71.77,504.25 71.81,504.27 71.82,503.06 72.12,503.51 72.43,503.54 72.74,502.91 73.04,503.73 73.35,504.12 73.66,503.72 73.97,503.28 74.28,503.31 74.59,504.28 74.9,504.03 75.21,504.26 75.52,503.26 75.83,504.02 76.14,504.11 76.45,502.88 76.75,502.9 77.06,503.68 77.37,502.97 77.68,503.87 77.99,503.42 78.3,504.06 78.61,502.93 78.92,503.68 79.23,503.14 79.54,503.54 79.85,503.72 80.16,503.77 80.46,503.23 80.77,503.88 81.08,503.23 81.39,503 81.7,503.13 82.01,502.88 82.32,503.2 82.63,504.09 82.94,503.12 83.25,503.61 83.56,503.61 83.87,503.49 84.17,503.58 84.48,503.15 84.79,504.17 85.1,503.12 85.41,503.87 85.72,503.24 86.03,503.24 86.34,504.13 86.65,503.89 86.96,503.85 87.27,503.95 87.58,503.65 87.88,503.44 88.19,503.45 88.5,504.47 88.81,503.72 89.12,503.99 89.43,503.81 89.74,503.26 90.05,503.45 90.36,503.3 90.67,504.54 90.98,503.01 91.29,503.81 91.59,504.39 91.9,502.51 92.21,503.29 92.52,503.65 92.83,503.19 93.14,503.64 93.45,503.23 93.76,503.69 94.07,503.76 94.38,503.55 94.69,503.98 95,503.09 95.3,504.77 95.61,503.38 95.92,503.41 96.23,503.36 96.54,503.14 96.85,503.92 97.16,502.79 97.47,503.9 97.78,503.52 98.09,504.04 98.4,503.13 98.71,504.21 99.01,503.15 99.32,503.24 99.63,503.48 99.94,503.94 100.25,503.36 100.56,503.66 100.87,503.43 101.18,503.51 101.49,503.24 101.8,503.97 102.11,503.6 102.42,503.53 102.72,503.52 103.03,504.17 103.34,503.13 103.65,503.69 103.96,504.03 104.27,503.57 104.58,503.27 104.89,504.78 105.2,502.89 105.51,504.22 105.82,503.37 106.13,503.52 106.43,503.28 106.74,503.33 107.05,503.16 107.36,504.09 107.67,503.27 107.98,503.12 108.29,503.19 108.6,502.45 108.91,503.7 109.22,502.43 109.53,503.21 109.84,503.6 110.14,503.52 110.18,503.09 110.23,503.59 110.29,503.36 110.34,503.58 110.4,503.29 110.45,503.88 110.45,504.26 110.51,504.5 110.56,503.34 110.62,503.62 110.67,504.24 110.73,503.37 110.76,504 110.78,504.42 110.84,503.18 110.89,503.62 110.95,504.39 111,504.08 111.06,504.21 111.07,503.46 111.11,503.14 111.17,502.3 111.22,501.38 111.28,499.4 111.33,498.16 111.38,500.18 111.39,499.83 111.44,502.52 111.5,505.29 111.56,507.97 111.61,511.1 111.67,511.68 111.69,509.28 111.72,507.46 111.78,505.6 111.83,504.03 111.89,503.36 111.94,503.99 112,503.63 112,503.47 112.05,504.21 112.11,503.93 112.16,503.65 112.22,503.55 112.27,503.79 112.31,503.74 112.33,503.55 112.38,504.67 112.44,503.49 112.49,502.55 112.55,503.02 112.6,503.17 112.62,503.67 112.66,504.09 112.71,504.06 112.77,502.65 112.83,503.59 112.93,503.59 113.24,503.48 113.55,503.28 113.85,502.81 114.16,503.59 114.47,503.79 114.78,503.92 115.09,503.82 115.4,503.28 115.71,503.6 116.02,503.23 116.33,503.46 116.64,503.09 116.95,502.57 117.26,503.25 117.56,503.62 117.87,502.8 118.18,504.15 118.49,504.33 118.8,503.81 119.11,503.74 119.42,504.09 119.73,504.25 120.04,503.46 120.35,503.7 120.66,503.53 120.97,502.9 121.27,503.65 121.58,503.92 121.89,503.76 122.2,503.37 122.51,502.66 122.82,503.59 123.13,504.44 123.44,503.52 123.75,503.42 124.06,503.44 124.37,503.25 124.68,504 124.98,504.06 125.29,503.32 125.6,503.31 125.91,503.46 126.22,503.65 126.53,503.61 126.84,503.84 127.15,503.26 127.46,503.31 127.77,503.85 128.08,503.67 128.39,503.46 128.69,503.91 129,503.6 129.31,502.95 129.62,504.39 129.93,503.66 130.24,503.44 130.55,503.7 130.86,503.86 131.17,504.21 131.48,503.45 131.79,503.41 132.1,502.59 132.4,503.9 132.71,503.35 133.02,504.13 133.33,503.49 133.64,503.69 133.95,503.39 134.17,503.64 134.23,503.13 134.26,503.77 134.29,503.94 134.34,503.26 134.4,503.77 134.45,503.51 134.51,503.59 134.56,503.43 134.57,504.49 134.62,503.48 134.67,503.2 134.73,503.87 134.78,504.31 134.84,503.61 134.88,503.67 134.89,503.89 134.95,502.85 135,502.54 135.06,503.59 135.11,503.14 135.17,504.54 135.19,503.22 135.22,502.36 135.28,503.21 135.33,502.49 135.39,501.91 135.44,501.37 135.5,499.27 135.5,498.13 135.56,499.93 135.61,501.73 135.67,502.37 135.72,503.29 135.78,503.13 135.81,503.64 135.83,503.66 135.89,502.94 135.94,504.03 136,503.44 136.05,502.88 136.11,503.2 136.11,503.67 136.16,503.16 136.22,503.73 136.27,503.56 136.33,503.77 136.38,504.56 136.42,503.3 136.44,503.76 136.49,502.89 136.55,503.27 136.6,503.58 136.66,503.92 136.71,503.63 136.73,503.09 136.77,503.9 136.82,503.38 137.04,503.38 137.35,503.72 137.66,504.3 137.97,504.3 138.28,503.85 138.59,503.21 138.9,503.78 139.21,502.89 139.52,503.44 139.82,503.48 140.13,502.48 140.44,504.49 140.75,503.41 141.06,503.3 141.37,504.07 141.68,503.13 141.99,504.06 142.3,504.47 142.61,503.8 142.92,503.92 143.23,503.78 143.53,503.9 143.84,503.26 144.15,502.83 144.46,503.79 144.77,502.75 145.08,503.62 145.39,504.21 145.7,503.61 146.01,503.47 146.32,504.44 146.63,503.51 146.94,503.4 147.24,503.7 147.55,503.78 147.86,503.97 148.17,502.82 148.48,503.67 148.79,503.96 149.1,503.18 149.41,503.36 149.72,502.99 150.03,503.85 150.34,503.57 150.65,503.86 150.95,503.32 151.26,504.14 151.57,503.52 151.88,503.25 152.19,503.75 152.5,503.01 152.81,503.4 153.12,502.56 153.43,503.06 153.74,503.23 154.05,504.74 154.36,503.37 154.66,503.9 154.97,503.56 155.28,503.22 155.59,503.08 155.9,503.53 156.21,503.55 156.52,504.36 156.83,503.27 157.14,503.21 157.45,503.31 157.76,503.74 158.07,503.27 158.37,504.71 158.68,503.38 158.99,504.03 159.3,503.58 159.61,503.8 159.92,503.95 160.23,503.84 160.54,503.91 160.85,503.11 161.16,503.85 161.47,503.15 161.78,503.65 162.08,503.36 162.39,504.55 162.7,503.45 163.01,503.73 163.32,503.79 163.63,503.93 163.94,503.88 164.25,503.31 164.56,503.3 164.87,503.44 165.18,503.51 165.49,503.58 165.79,504.38 166.1,503.53 166.41,503.56 166.72,503.26 167.03,503.34 167.34,503.61 167.65,503.74 167.96,504.38 168.27,503.61 168.58,503.61 168.89,503.67 169.2,504.77 169.5,504.42 169.81,502.41 170.12,503.54 170.43,503.74 170.74,504.61 171.05,503.43 171.17,503.86 171.23,503.82 171.29,503.83 171.34,503.61 171.36,503.26 171.4,503.61 171.45,503.53 171.51,502.7 171.56,504.46 171.62,502.91 171.67,503.23 171.67,503.92 171.73,504.01 171.78,504.05 171.84,502.73 171.89,503.93 171.95,503.94 171.98,503.64 172,503.01 172.06,503.5 172.11,503.7 172.17,503.62 172.22,503.21 172.28,499.99 172.29,499.13 172.33,496.69 172.39,496.71 172.44,499.1 172.5,501.8 172.56,504.19 172.6,505.19 172.61,505.16 172.67,504.74 172.72,504.5 172.78,504.1 172.83,502.82 172.89,503.34 172.91,503.24 172.94,504.17 173,503.4 173.05,503.55 173.11,503.76 173.16,503.99 173.22,503.88 173.22,502.63 173.27,503.45 173.33,503.42 173.38,503.32 173.44,503.56 173.49,503.69 173.52,503.01 173.55,503.63 173.6,503.86 173.66,503.25 173.71,503.32 173.77,504.3 173.82,503.57 173.83,504.1 174.14,504.09 174.45,503.39 174.76,503.47 175.07,502.96 175.38,504.42 175.69,503.94 176,503.76 176.31,504.13 176.62,502.96 176.93,503.67 177.23,503.65 177.54,503.27 177.85,504.68 178.16,504 178.47,503.87 178.78,502.62 179.09,504.11 179.4,504.68 179.71,503.44 180.02,504.44 180.33,503.32 180.64,503.77 180.94,502.99 181.25,503.14 181.56,503.52 181.87,502.96 182.18,503.39 182.49,503.58 182.8,504.2 183.11,504.29 183.42,503.36 183.73,502.97 184.04,504.46 184.35,503.24 184.65,504.15 184.96,503.41 185.27,503.52 185.58,504.27 185.89,504.23 186.2,503.87 186.51,503.48 186.82,503.9 187.13,503.17 187.44,503.55 187.75,502.9 188.06,503.31 188.36,503.72 188.67,504.1 188.98,503.51 189.29,503.3 189.6,503.02 189.91,503.67 190.22,503.75 190.53,503.85 190.84,503.6 191.15,504.84 191.46,503.59 191.77,503.56 192.07,503.12 192.38,502.9 192.69,502.52 193,503.29 193.31,504.1 193.62,503.19 193.93,503.21 194.24,504.35 194.55,503.9 194.86,503.34 195.17,503.72 195.48,503.67 195.78,503.26 196.09,503.91 196.4,502.96 196.71,503.1 197.02,503.75 197.18,504.25 197.23,503.27 197.29,502.88 197.33,504.23 197.34,503.18 197.4,504.19 197.45,503.24 197.51,503.82 197.56,503.24 197.62,504.43 197.64,503.38 197.67,503.2 197.73,503.64 197.78,503.34 197.84,503.71 197.89,502.91 197.95,503.34 197.95,503.68 198,504.08 198.06,502.99 198.11,503.41 198.17,503.51 198.22,503.03 198.26,503.88 198.28,503.63 198.33,502.26 198.39,501.63 198.44,501.87 198.5,502.15 198.56,502.35 198.57,503.59 198.61,504.09 198.67,504.99 198.72,505.45 198.78,504.03 198.83,503.64 198.88,504.37 198.89,503.89 198.94,503.37 199,503.92 199.05,504.53 199.11,503 199.16,504.04 199.19,503.52 199.22,503.47 199.27,502.93 199.33,503.8 199.38,503.25 199.44,503.78 199.49,503.65 199.49,504.08 199.55,503.02 199.6,502.94 199.66,503.12 199.71,502.7 199.77,503.48 199.8,503.15 199.83,503.56 200.11,503.27 200.42,503.32 200.73,502.87 201.04,503.8 201.35,502.81 201.66,503.4 201.97,503.03 202.28,504.19 202.59,503.49 202.9,502.45 203.2,503.09 203.51,504.35 203.82,503.53 204.13,503.67 204.44,503.96 204.75,503.89 205.06,503.36 205.37,503.47 205.68,503.59 205.99,503.27 206.3,503.11 206.61,503.32 206.91,503.96 207.22,503.98 207.53,503.3 207.84,504.04 208.15,502.94 208.46,503.66 208.77,503.52 209.08,503.88 209.39,503.45 209.7,502.83 210.01,503.39 210.32,504.05 210.62,502.78 210.93,504.09 211.24,504.43 211.55,504.44 211.86,502.95 212.17,503.74 212.48,503.25 212.79,503.72 213.1,503.35 213.41,503.59 213.72,503.55 214.03,503.57 214.33,503.82 214.64,503.56 214.95,503.48 215.26,504.34 215.57,503.27 215.88,503.64 216.19,504.09 216.5,503.49 216.81,504.55 217.12,502.49 217.43,503.63 217.74,503.67 218.04,504.22 218.35,502.84 218.66,503.22 218.97,503.72 219.28,503.13 219.59,503.33 219.9,503.93 220.18,504 220.21,503.61 220.23,503.65 220.29,504.26 220.34,503.26 220.4,503.03 220.45,504.19 220.51,503.42 220.52,503.97 220.56,503.48 220.62,503.59 220.67,503.89 220.73,504.26 220.78,503.93 220.83,504.02 220.84,504.17 220.89,503.88 220.95,504.03 221,503.81 221.06,503.49 221.11,504.57 221.14,503.92 221.17,504.21 221.22,503.33 221.28,502.05 221.33,501.03 221.39,501.5 221.44,500.62 221.45,500.77 221.5,502.46 221.56,503.81 221.61,505.34 221.67,507.07 221.72,506.21 221.75,505.31 221.78,505.18 221.83,503.96 221.89,503.66 221.94,502.8 222,503.12 222.05,503.54 222.06,503.93 222.11,503.89 222.16,503.36 222.22,504.46 222.27,503.79 222.33,504.11 222.37,503.34 222.38,502.44 222.44,503.67 222.49,503.54 222.55,503.77 222.6,502.93 222.66,502.83 222.68,503.59 222.71,503.16 222.77,503.35 222.83,502.96 222.99,503.11 223.3,503.94 223.61,503.08 223.92,503.87 224.23,503.75 224.54,503.15 224.85,504.41 225.16,503.07 225.46,503.72 225.77,503.83 226.08,503.19 226.39,503.12 226.7,504.17 227.01,503.94 227.32,503.6 227.63,503.32 227.94,504.46 228.25,503.38 228.56,504.44 228.87,503.76 229.17,504.26 229.48,504.51 229.79,503.44 230.1,503.87 230.41,502.89 230.72,503.74 231.03,504.02 231.34,503.53 231.65,502.85 231.96,504.08 232.27,503.17 232.58,503.92 232.88,504.06 233.19,503.96 233.5,503.51 233.81,503.33 234.12,502.97 234.43,503.16 234.74,503.29 235.05,503.49 235.36,503.61 235.67,503.21 235.98,503.86 236.29,503.84 236.59,503.61 236.9,503.31 237.21,503.99 237.52,503.74 237.83,504.07 238.14,503.85 238.45,504.65 238.76,503.47 239.07,503.33 239.38,503.53 239.69,503.92 240,503.32 240.3,503.69 240.61,503.86 240.92,502.82 241.23,503.02 241.54,504.47 241.85,503.99 242.16,503.52 242.47,503.9 242.78,503.48 243.09,503.18 243.4,504.16 243.71,503.72 244.01,504.29 244.32,504.64 244.63,503.51 244.94,504.66 245.25,503.94 245.56,504.01 245.87,503.36 246.18,503.37 246.49,503.57 246.8,503.35 247.11,503.66 247.42,503.89 247.72,503.37 248.03,502.57 248.34,504.3 248.65,503.22 248.96,503.01 249.27,504.13 249.58,503.48 249.89,504.06 250.2,503.78 250.51,503.45 250.82,504.16 251.13,502.88 251.43,503.14 251.74,503.3 252.05,503.94 252.36,503.15 252.67,502.72 252.98,502.78 253.29,503.27 253.6,503.87 253.91,503.55 254.22,503.3 254.53,502.56 254.84,503.61 255.14,503.39 255.45,503.69 255.76,503.97 256.07,503.61 256.38,503.98 256.69,503.58 257,504.08 257.31,503.16 257.62,503.77 257.93,503.71 258.24,502.9 258.55,503.89 258.85,503.51 259.16,503.93 259.47,503.3 259.78,504.06 260.09,504.15 260.4,503.44 260.71,504.06 261.02,503.75 261.33,503.98 261.64,504.35 261.95,503.6 262.26,503.87 262.56,503.86 262.87,502.82 263.17,503.4 263.18,503.16 263.23,503.58 263.29,503.42 263.34,503.11 263.4,504.42 263.45,502.96 263.49,503.09 263.51,503.26 263.56,503.75 263.62,503.65 263.67,503.62 263.73,503.67 263.78,503.41 263.8,502.77 263.84,503.56 263.89,503.88 263.95,503.53 264,503.85 264.06,503.8 264.11,504.1 264.11,503.51 264.17,503.46 264.22,502.9 264.28,502.18 264.33,501.6 264.39,499.73 264.42,500.38 264.44,501.25 264.5,501.05 264.56,502.98 264.61,502.58 264.67,503.91 264.72,503.18 264.73,503.09 264.78,504.53 264.83,504.4 264.89,503.42 264.94,503.87 265,503.13 265.04,503.92 265.05,503.63 265.11,503.38 265.16,503.57 265.22,503.75 265.27,503.85 265.33,504.47 265.35,503.68 265.38,503.87 265.44,503.92 265.49,503.87 265.55,503.84 265.6,503.66 265.66,503.71 265.66,502.99 265.71,503.19 265.77,503.75 265.82,503.1 265.97,503.65 266.27,503.43 266.58,503.16 266.89,503.27 267.2,503.3 267.51,504.12 267.82,503.88 268.13,502.92 268.44,503.46 268.75,503.93 269.06,503.29 269.37,503.07 269.68,503.2 269.98,503.57 270.29,503.85 270.6,503.78 270.91,502.3 271.22,502.86 271.53,503.46 271.84,503.95 272.15,503.43 272.46,503.33 272.77,503.4 273.08,503.79 273.39,503.26 273.69,503.06 274,504.19 274.31,504.09 274.62,504.34 274.93,504.11 275.24,504.29 275.55,503.72 275.86,503.63 276.17,504.19 276.48,503.58 276.79,503.8 277.1,504.49 277.4,503.87 277.71,503.45 278.02,503.97 278.33,503.24 278.64,503.34 278.95,504.45 279.26,503.6 279.57,503.25 279.88,503.13 280.19,503.69 280.5,503.79 280.81,504.32 281.12,503.68 281.42,503.16 281.73,503.59 282.04,503.81 282.35,503.97 282.66,503.99 282.97,503.66 283.28,504.01 283.59,503.13 283.9,502.72 284.17,504.09 284.21,503.35 284.23,503.26 284.29,504.02 284.34,503.72 284.4,503.37 284.45,503.61 284.51,503.76 284.52,503.25 284.56,503.71 284.62,503.62 284.67,504.02 284.73,504.84 284.78,503.9 284.83,503.29 284.84,503.64 284.89,503.34 284.95,504.05 285,502.46 285.06,503.7 285.11,503.15 285.13,502.89 285.17,503.42 285.22,503.43 285.28,502.02 285.33,500.03 285.39,498.09 285.44,499.18 285.44,499.11 285.5,500.22 285.56,502.31 285.61,503.23 285.67,504.61 285.72,505.61 285.75,504.88 285.78,505.01 285.83,504.32 285.89,503.33 285.94,503.03 286,503.81 286.05,503.46 286.06,503.28 286.11,504.17 286.16,503.37 286.22,503.47 286.27,503.97 286.33,502.72 286.37,503.95 286.38,504.29 286.44,503.57 286.49,503.15 286.55,503.91 286.6,502.74 286.66,503.52 286.68,503.32 286.71,503.38 286.77,503.67 286.82,503.68 286.99,503.69 287.3,503.51 287.61,503.01 287.92,503.33 288.23,503.26 288.54,503.48 288.84,503.95 289.15,503.02 289.46,503.4 289.77,503.8 290.08,503.3 290.39,503.85 290.7,503.02 291.01,502.81 291.32,502.53 291.63,503.61 291.94,503.53 292.25,503.94 292.55,503.95 292.86,503.35 293.17,503.8 293.48,503.77 293.79,503.65 294.1,502.83 294.41,503.16 294.72,503.76 295.03,503.48 295.34,502.81 295.65,503 295.96,503.23 296.26,503.19 296.57,503.44 296.88,503.3 297.19,503.09 297.5,503.15 297.81,504.02 298.12,504.2 298.43,503.33 298.74,503.47 299.05,503.96 299.36,503.26 299.67,503.92 299.97,503.94 300.28,503.81 300.59,502.94 300.9,504.31 301.21,503.57 301.52,503.35 301.83,503.18 302.14,503.51 302.45,503.82 302.76,504.09 303.07,503.94 303.18,503.33 303.23,503.58 303.29,504.27 303.34,503.47 303.38,504.09 303.4,503.5 303.45,503.09 303.51,502.63 303.56,503.79 303.62,504.02 303.67,504.45 303.68,503.41 303.73,503.76 303.78,503.89 303.84,504.44 303.89,503.96 303.95,503.37 303.99,503.37 304,503.7 304.06,503.73 304.11,504.38 304.17,503.04 304.22,503.72 304.28,503.71 304.3,503.47 304.33,503.52 304.39,503.69 304.44,505.17 304.5,505.19 304.56,506.47 304.61,506.68 304.61,505.62 304.67,505.28 304.72,503.99 304.78,504.23 304.83,503.12 304.89,503.91 304.92,504.45 304.94,503.36 305,503.37 305.05,503.46 305.11,502.94 305.16,503.53 305.22,503.15 305.23,503.39 305.27,503.57 305.33,503.64 305.38,503.24 305.44,503.67 305.49,503.27 305.54,503.48 305.55,503.62 305.6,503.91 305.66,504.36 305.71,503.88 305.77,503.35 305.83,503.47 305.85,503.92 306.16,503.01 306.47,504.45 306.78,502.91 307.09,504.25 307.39,503.35 307.7,503.95 308.01,503.18 308.32,502.98 308.63,503.47 308.94,503.86 309.25,504.24 309.56,504.21 309.87,503.58 310.18,503.28 310.49,503.69 310.8,503.85 311.1,503.18 311.41,503.53 311.72,503.49 312.03,503.63 312.34,504.34 312.65,504.06 312.96,502.95 313.27,503.64 313.58,503.19 313.89,504.33 314.2,503.75 314.51,503.13 314.81,503.76 315.12,503.42 315.43,503.15 315.74,503.78 316.05,504.51 316.36,503.75 316.67,503.75 316.98,504.15 317.29,503.04 317.6,503.75 317.91,503.9 318.22,502.82 318.52,503.55 318.83,504.04 319.14,503.26 319.45,503.17 319.76,503.32 320.07,503.78 320.38,503.41 320.69,503.96 321,503.02 321.31,503.4 321.62,503.67 321.93,503.56 322.23,503.02 322.54,503.25 322.85,503.7 323.16,503.5 323.47,503.27 323.78,503.82 324.09,503.82 324.4,503.64 324.71,503.09" fill="none" stroke="#8a8a8a" stroke-width="1.2" />
<polyline points="59.75,492.08 60.06,492 60.37,492.37 60.68,491.07 60.99,491.06 61.3,491.4 61.61,492.6 61.91,491.22 62.22,492.51 62.53,491.97 62.84,491.2 63.15,491.02 63.46,491.1 63.77,491.65 64.08,490.86 64.39,491.54 64.7,491.33 65.01,490.69 65.32,491.31 65.62,491.31 65.93,491.45 66.24,490.66 66.55,490.85 66.86,492.08 67.17,490.88 67.48,490.47 67.79,491.64 68.1,490.3 68.41,489.8 68.72,490.57 69.03,490.16 69.17,490.66 69.23,490.88 69.29,489.38 69.33,490.93 69.34,489.14 69.4,490.99 69.45,489.37 69.51,489.97 69.56,488.26 69.62,488.36 69.64,487.3 69.67,487.69" fill="none" stroke="#142414" stroke-width="1.3" />
<polyline points="69.67,487.69 69.73,488.39 69.78,486.21 69.84,487.28 69.89,484.78 69.95,484.58 69.95,485.2 70,483.27 70.06,482.54 70.11,481.8 70.17,481.33 70.22,478.77 70.26,477.64 70.28,474.46 70.33,465.5 70.39,444.43 70.44,419.81 70.5,408.87 70.56,421.13 70.57,426.25 70.61,444.11 70.67,464.53 70.72,475.42 70.78,479.01 70.83,480.41 70.88,480.48 70.89,482.06 70.94,482.67 71,483.73 71.05,483.25 71.11,485.88 71.16,485.71 71.19,486.57 71.22,486.49 71.27,485.82" fill="none" stroke="#2a3a2a" stroke-width="0.45" />
<polyline points="71.27,485.82 71.33,488.2 71.38,488.49 71.44,490.44 71.49,488.5 71.5,489.19 71.55,488.88 71.6,490.67 71.66,490.03 71.71,489.29 71.77,489.4 71.81,489.71 71.82,490.04 72.12,490.41 72.43,489.84 72.74,490.36 73.04,489.64 73.35,488.58 73.66,489.68 73.97,490.14 74.28,490.06 74.59,491.11 74.9,489.78 75.21,490.77 75.52,489.35 75.83,489.2 76.14,490.09 76.45,489.6 76.75,490.6 77.06,489.43 77.37,491.22 77.68,490.06 77.99,489.74 78.3,489.06 78.61,489.26 78.92,489.06 79.23,490.38 79.54,489.85 79.85,489.03 80.16,491.29 80.46,491.01 80.77,489.67 81.08,489.86 81.39,489.79 81.7,489.87 82.01,488.91 82.32,490.22 82.63,490.94 82.94,490.98 83.25,490.53 83.56,489.88 83.87,490.12 84.17,488.65 84.48,489.41 84.79,489.85 85.1,490.06 85.41,490.71 85.72,489.08 86.03,489.69 86.34,489.58 86.65,490.63 86.96,489.1 87.27,490.21 87.58,490.59 87.88,490.37 88.19,491.08 88.5,490.02 88.81,489.18 89.12,490.98 89.43,489.43 89.74,489.13 90.05,489.19 90.36,488.78 90.67,489.31 90.98,489.03 91.29,489.76 91.59,488.38 91.9,489.28 92.21,490.13 92.52,488.4 92.83,489.21 93.14,490.1 93.45,489.36 93.76,489.56 94.07,490.15 94.38,488.98 94.69,490.04 95,487.89 95.3,489.12 95.61,489.13 95.92,488.48 96.23,489.54 96.54,490.68 96.85,489.29 97.16,488.68 97.47,490.34 97.78,489.3 98.09,489.72 98.4,488.18 98.71,490.2 99.01,488.43 99.32,488.35 99.63,490 99.94,490.78 100.25,489.49 100.56,489.9 100.87,489.17 101.18,489.06 101.49,489.64 101.8,489.41 102.11,489.82 102.42,489.51 102.72,489.44 103.03,489.52 103.34,489.17 103.65,489.16 103.96,489.16 104.27,490.58 104.58,489.99 104.89,490.08 105.2,490.05 105.51,489.65 105.82,489.88 106.13,489.11 106.43,488.51 106.74,489.42 107.05,488.4 107.36,488.78 107.67,489.5 107.98,489.58 108.29,489.04 108.6,489.53 108.91,488.64 109.22,489.34 109.53,489.6 109.84,488.76 110.14,489.79 110.18,488.79 110.23,488.39 110.29,488.15 110.34,488.3 110.4,488.25 110.45,488.35 110.45,487.68 110.51,487.48 110.56,487.03" fill="none" stroke="#142414" stroke-width="1.3" />
<polyline points="110.56,487.03 110.62,485.55 110.67,485.2 110.73,482.98 110.76,482.74 110.78,483.12 110.84,481.32 110.89,481.65 110.95,478.71 111,478.76 111.06,476.56 111.07,475.79 111.11,474.32 111.17,472.2 111.22,471.35 111.28,464.32 111.33,445.57 111.38,416.86 111.39,411.79 111.44,370.97 111.5,352.19 111.56,370.42 111.61,411.08 111.67,445.62 111.69,456.16 111.72,464.59 111.78,470.45 111.83,473.27 111.89,474.42 111.94,476.2 112,477.73 112,477.26 112.05,479.53 112.11,480.71 112.16,482.48 112.22,483.3 112.27,483.77 112.31,483.31 112.33,484.38 112.38,485.21" fill="none" stroke="#2a3a2a" stroke-width="0.45" />
<polyline points="112.38,485.21 112.44,487.07 112.49,486.84 112.55,487.5 112.6,487.63 112.62,487.87 112.66,488.1 112.71,487.94 112.77,488.7 112.83,489.14 112.93,488.47 113.24,489.85 113.55,489.02 113.85,489.85 114.16,488.36 114.47,489.21 114.78,488.51 115.09,488.96 115.4,489.8 115.71,488.56 116.02,489.79 116.33,489.4 116.64,488.44 116.95,489.69 117.26,489.37 117.56,489.76 117.87,490.44 118.18,488.53 118.49,490.29 118.8,488.65 119.11,489.4 119.42,489.44 119.73,489.35 120.04,489.41 120.35,489.08 120.66,489.91 120.97,489.66 121.27,488.89 121.58,489.65 121.89,489.93 122.2,489.18 122.51,489.01 122.82,489.79 123.13,487.65 123.44,489.68 123.75,489.26 124.06,489.5 124.37,489.32 124.68,490.51 124.98,489.36 125.29,489.99 125.6,489.75 125.91,488.9 126.22,489.04 126.53,490.21 126.84,489.07 127.15,489.41 127.46,489.89 127.77,488.21 128.08,489.26 128.39,488.41 128.69,488.8 129,489.36 129.31,490.43 129.62,488.8 129.93,488.89 130.24,489.07 130.55,490.26 130.86,488.44 131.17,489.97 131.48,490.09 131.79,488.31 132.1,489.2 132.4,489.66 132.71,489.02 133.02,489.97 133.33,489.17 133.64,490.14 133.95,489.67 134.17,489.41 134.23,489.55 134.26,488.48 134.29,488.81 134.34,489.27 134.4,488.38 134.45,489.34 134.51,490.2 134.56,489.68 134.57,489.96 134.62,489.23 134.67,489.56 134.73,489.37 134.78,488.88 134.84,489.55 134.88,488.59 134.89,488.91 134.95,488.88 135,489.44 135.06,489.38 135.11,488.84 135.17,489.65 135.19,488.51 135.22,488.45 135.28,488.51 135.33,487.57 135.39,486.18" fill="none" stroke="#142414" stroke-width="1.3" />
<polyline points="135.39,486.18 135.44,486.33 135.5,485.09 135.5,485.02 135.56,486.1" fill="none" stroke="#2a3a2a" stroke-width="0.45" />
<polyline points="135.56,486.1 135.61,487.5 135.67,488.53 135.72,488.62 135.78,488.93 135.81,488.57 135.83,488.49 135.89,489.65 135.94,488.7 136,488.36 136.05,490.02 136.11,488.9 136.11,488.98 136.16,490.08 136.22,489.15 136.27,488.98 136.33,488.81 136.38,489.27 136.42,489.52 136.44,488.45 136.49,489.36 136.55,489.5 136.6,488.28 136.66,488.57 136.71,489.2 136.73,489.26 136.77,487.87 136.82,489.68 137.04,489.99 137.35,488.99 137.66,489.02 137.97,488.88 138.28,489.77 138.59,489.59 138.9,489.29 139.21,489.01 139.52,489.34 139.82,488.58 140.13,490.13 140.44,487.99 140.75,489.37 141.06,488.75 141.37,489.51 141.68,489.28 141.99,490.01 142.3,489.36 142.61,489.5 142.92,489.07 143.23,489.88 143.53,489.37 143.84,489.33 144.15,488.62 144.46,489.82 144.77,490.86 145.08,489.78 145.39,489.02 145.7,489.06 146.01,490.46 146.32,488.61 146.63,488.85 146.94,489.05 147.24,488.54 147.55,488.81 147.86,488.89 148.17,489.41 148.48,489.07 148.79,490.04 149.1,489.22 149.41,489.08 149.72,489.36 150.03,489.58 150.34,488.8 150.65,489.51 150.95,489.5 151.26,489.12 151.57,489.08 151.88,489.95 152.19,489.51 152.5,488.85 152.81,489.76 153.12,489.87 153.43,489.64 153.74,489.73 154.05,487.98 154.36,489.6 154.66,489.39 154.97,488.02 155.28,490.34 155.59,490.39 155.9,489.69 156.21,488.57 156.52,490.19 156.83,488.62 157.14,489.84 157.45,489.03 157.76,490.72 158.07,488.79 158.37,488.8 158.68,489.23 158.99,487.78 159.3,489.54 159.61,488.8 159.92,488.64 160.23,489.17 160.54,489.24 160.85,490.31 161.16,489.15 161.47,489.21 161.78,489.93 162.08,489.01 162.39,489.54 162.7,488.58 163.01,489.33 163.32,489.18 163.63,489.96 163.94,489.7 164.25,490.04 164.56,490.14 164.87,489.96 165.18,488.5 165.49,489.78 165.79,489.25 166.1,489.71 166.41,489.62 166.72,488.89 167.03,488.78 167.34,489.51 167.65,489.5 167.96,489.45 168.27,489.54 168.58,489.93 168.89,489.02 169.2,488.07 169.5,489.46 169.81,488.74 170.12,490.87 170.43,489.02 170.74,488.99 171.05,488.73 171.17,489.12 171.23,488.67 171.29,488.83 171.34,490.2 171.36,488.65 171.4,489.2 171.45,488.08 171.51,487.44 171.56,488.45 171.62,487 171.67,486.54 171.67,487.46 171.73,486.04" fill="none" stroke="#142414" stroke-width="1.3" />
<polyline points="171.73,486.04 171.78,487.12 171.84,483.86 171.89,485.12 171.95,483.84 171.98,482.76 172,483.89 172.06,482.81 172.11,481.7 172.17,480.67 172.22,480.65 172.28,476.72 172.29,475.01 172.33,466.16 172.39,449.03 172.44,428.92 172.5,417.6 172.56,427.7 172.6,442.6 172.61,448.1 172.67,466.37 172.72,476.3 172.78,480.02 172.83,479.92 172.89,481.68 172.91,481.25 172.94,481.72 173,483.61 173.05,483.1 173.11,485.23 173.16,485.79 173.22,485.07 173.22,486" fill="none" stroke="#2a3a2a" stroke-width="0.45" />
<polyline points="173.22,486 173.27,485.86 173.33,487.46 173.38,486.53 173.44,487.12 173.49,487.89 173.52,488.09 173.55,489.33 173.6,488.52 173.66,489.02 173.71,487.74 173.77,488.86 173.82,487.96 173.83,489.17 174.14,489.35 174.45,489.29 174.76,489.32 175.07,489.86 175.38,489.74 175.69,489.45 176,489.95 176.31,489.16 176.62,489.42 176.93,488.92 177.23,489.26 177.54,489.37 177.85,489.39 178.16,489.35 178.47,488.94 178.78,489.25 179.09,489.98 179.4,490.2 179.71,490.48 180.02,489.73 180.33,490.24 180.64,489.81 180.94,489.13 181.25,488.15 181.56,489.25 181.87,488.24 182.18,489.53 182.49,489.16 182.8,489.64 183.11,489.66 183.42,488.59 183.73,490.07 184.04,488.79 184.35,488.21 184.65,488.07 184.96,489.01 185.27,489.21 185.58,488.69 185.89,490.1 186.2,489.68 186.51,489.11 186.82,489.32 187.13,489.61 187.44,488.87 187.75,489.53 188.06,489.7 188.36,488.63 188.67,488.83 188.98,488.72 189.29,490.31 189.6,489.88 189.91,489.75 190.22,489.16 190.53,489.18 190.84,488.93 191.15,489.21 191.46,488.63 191.77,490.43 192.07,489.05 192.38,490 192.69,489.43 193,489.43 193.31,489.56 193.62,488.67 193.93,488.4 194.24,489.69 194.55,489.73 194.86,489.83 195.17,489.14 195.48,489.23 195.78,489.21 196.09,488.75 196.4,490.25 196.71,489.23 197.02,490.17 197.18,488.98 197.23,489.23 197.29,488.15 197.33,489.24 197.34,488.37 197.4,488.43 197.45,487.9 197.51,487.86 197.56,487.8 197.62,488.09 197.64,487.45 197.67,487.49 197.73,487.58 197.78,487.12 197.84,485.65" fill="none" stroke="#142414" stroke-width="1.3" />
<polyline points="197.84,485.65 197.89,485.05 197.95,485.5 197.95,484.9 198,485.73 198.06,485.04 198.11,484.64 198.17,484.49 198.22,483.87 198.26,481.62 198.28,480.28 198.33,473.2 198.39,465.83 198.44,456.12 198.5,454.05 198.56,457.05 198.57,458.36 198.61,464.86 198.67,473.17 198.72,480.25 198.78,483.33 198.83,483.85 198.88,484.68 198.89,485.28 198.94,485.93 199,486.11 199.05,486.62 199.11,485.94" fill="none" stroke="#2a3a2a" stroke-width="0.45" />
<polyline points="199.11,485.94 199.16,486.51 199.19,488.4 199.22,486.19 199.27,486.66 199.33,486.81 199.38,487.11 199.44,488.92 199.49,489.06 199.49,487.84 199.55,489.64 199.6,488.31 199.66,489.49 199.71,487.54 199.77,489.04 199.8,489.06 199.83,488.36 200.11,490.08 200.42,489.61 200.73,489.17 201.04,488.64 201.35,489.12 201.66,489.66 201.97,488.61 202.28,489.02 202.59,490.11 202.9,489.1 203.2,489.86 203.51,488.87 203.82,489.84 204.13,489.64 204.44,489.05 204.75,489.05 205.06,489.67 205.37,489.69 205.68,488.36 205.99,489.43 206.3,489.56 206.61,490.12 206.91,489.65 207.22,488.25 207.53,488.26 207.84,488.45 208.15,488.6 208.46,489.41 208.77,487.84 209.08,489.59 209.39,489.06 209.7,489.23 210.01,489.54 210.32,488.44 210.62,488.7 210.93,490.16 211.24,489.97 211.55,489.06 211.86,489.03 212.17,490.32 212.48,490.51 212.79,489.79 213.1,489.3 213.41,489.55 213.72,489.67 214.03,490.05 214.33,490.52 214.64,488.17 214.95,490.11 215.26,489.93 215.57,489.79 215.88,489.1 216.19,489.9 216.5,488.51 216.81,489.92 217.12,490.17 217.43,490.04 217.74,489.21 218.04,489.51 218.35,489.98 218.66,489.8 218.97,490.37 219.28,489.17 219.59,490 219.9,488.98 220.18,488.6 220.21,489.32 220.23,490.44 220.29,489.26 220.34,488.75 220.4,488.55 220.45,488.8 220.51,486.91 220.52,487.22 220.56,487.09 220.62,486.88 220.67,486.21 220.73,487.18" fill="none" stroke="#142414" stroke-width="1.3" />
<polyline points="220.73,487.18 220.78,485.5 220.83,486.53 220.84,486.08 220.89,485.58 220.95,485.32 221,484.54 221.06,484.07 221.11,483.45 221.14,483.73 221.17,482.41 221.22,481.55 221.28,477.19 221.33,469.33 221.39,458.63 221.44,446.15 221.45,446.53 221.5,442.04 221.56,446.32 221.61,457.13 221.67,470.26 221.72,476.29 221.75,480.11 221.78,481.37 221.83,482.82 221.89,482.73 221.94,482.99 222,483.51 222.05,484.9 222.06,485.15 222.11,485.44 222.16,484.81 222.22,486.48" fill="none" stroke="#2a3a2a" stroke-width="0.45" />
<polyline points="222.22,486.48 222.27,486.62 222.33,487.61 222.37,488.59 222.38,487.32 222.44,487.6 222.49,486.97 222.55,487.99 222.6,488.68 222.66,487.88 222.68,488.77 222.71,489.19 222.77,489.63 222.83,488.23 222.99,489.7 223.3,489.73 223.61,490.14 223.92,488.33 224.23,489.8 224.54,487.8 224.85,489.67 225.16,489.75 225.46,488.19 225.77,489.76 226.08,490.49 226.39,490 226.7,490.38 227.01,489.16 227.32,488.86 227.63,490.05 227.94,488.82 228.25,488.22 228.56,488.87 228.87,489.78 229.17,488.68 229.48,489.88 229.79,489.48 230.1,490.37 230.41,489.02 230.72,488.93 231.03,490.06 231.34,489.74 231.65,489.37 231.96,489.16 232.27,488.39 232.58,489.27 232.88,490.48 233.19,488.78 233.5,490.14 233.81,489.19 234.12,488.94 234.43,489.85 234.74,489.94 235.05,489.23 235.36,488.74 235.67,488.66 235.98,489.25 236.29,489.8 236.59,489.46 236.9,487.51 237.21,488.87 237.52,489.77 237.83,489.22 238.14,488.35 238.45,488.68 238.76,489.34 239.07,489.22 239.38,489.16 239.69,490.49 240,490.77 240.3,489.15 240.61,489.84 240.92,488.21 241.23,489.37 241.54,490.31 241.85,489.63 242.16,489.68 242.47,487.49 242.78,489.31 243.09,489.36 243.4,488.25 243.71,489.24 244.01,489.12 244.32,490.41 244.63,489.02 244.94,489.29 245.25,489.56 245.56,490.2 245.87,488.91 246.18,489.35 246.49,489.7 246.8,489.31 247.11,489.38 247.42,489.42 247.72,487.97 248.03,489.07 248.34,488.48 248.65,488.91 248.96,488.18 249.27,488.87 249.58,489.87 249.89,489.03 250.2,489.57 250.51,489.3 250.82,489.51 251.13,488.58 251.43,489.4 251.74,489.06 252.05,489.04 252.36,488.99 252.67,489.88 252.98,488.06 253.29,488.12 253.6,489.54 253.91,489.83 254.22,489.36 254.53,490.57 254.84,487.95 255.14,488.92 255.45,489.17 255.76,489.41 256.07,489.23 256.38,489.14 256.69,489.31 257,488.97 257.31,489.08 257.62,488.97 257.93,489.64 258.24,488.89 258.55,489.43 258.85,489.11 259.16,489.89 259.47,489.4 259.78,490.07 260.09,489.03 260.4,489.27 260.71,489.4 261.02,489.37 261.33,489.13 261.64,488.67 261.95,489.44 262.26,488.74 262.56,488.95 262.87,488.69 263.17,489.04 263.18,489.35 263.23,487.96 263.29,489.28 263.34,487.76 263.4,487.83 263.45,488.59 263.49,488.8 263.51,486.86 263.56,487.15 263.62,488.4 263.67,487.58 263.73,486.83 263.78,486.93 263.8,486.98 263.84,486.57 263.89,486.75" fill="none" stroke="#142414" stroke-width="1.3" />
<polyline points="263.89,486.75 263.95,485.59 264,486.85 264.06,486.02 264.11,484.89 264.11,485.23 264.17,485.42 264.22,483 264.28,479.95 264.33,475.69 264.39,468.2 264.42,465.63 264.44,462.95 264.5,462.09 264.56,463.22 264.61,469.84 264.67,474.58 264.72,479.64 264.73,481.87 264.78,482.49 264.83,484.22 264.89,484.83 264.94,484.56 265,486.19 265.04,486.75 265.05,486.64" fill="none" stroke="#2a3a2a" stroke-width="0.45" />
<polyline points="265.05,486.64 265.11,487.28 265.16,486.5 265.22,486.01 265.27,486.46 265.33,487 265.35,487.41 265.38,487.96 265.44,488.05 265.49,489.35 265.55,488.51 265.6,488.97 265.66,487.98 265.66,488.76 265.71,487.99 265.77,487.99 265.82,488.87 265.97,489.33 266.27,489 266.58,489.48 266.89,489.44 267.2,488.68 267.51,488.89 267.82,490.14 268.13,489.05 268.44,490.08 268.75,489.86 269.06,489.5 269.37,489.21 269.68,489.94 269.98,488.77 270.29,489.04 270.6,490 270.91,489.73 271.22,489.63 271.53,489.21 271.84,488.88 272.15,488.78 272.46,490.26 272.77,489 273.08,488.37 273.39,489.02 273.69,489.89 274,490.22 274.31,489.02 274.62,489.41 274.93,489.29 275.24,489.13 275.55,489.06 275.86,489.3 276.17,489.26 276.48,490.9 276.79,489.91 277.1,489.08 277.4,489.8 277.71,489.98 278.02,489.42 278.33,489.94 278.64,489.74 278.95,489.06 279.26,490 279.57,489.13 279.88,488.85 280.19,489.56 280.5,488.86 280.81,488.69 281.12,488.94 281.42,490.54 281.73,489.15 282.04,489.99 282.35,488.41 282.66,491.46 282.97,490.06 283.28,489.54 283.59,489.75 283.9,489.94 284.17,489.11 284.21,488.25 284.23,489.33 284.29,489.74 284.34,487.84 284.4,489.22 284.45,487.77 284.51,489.33 284.52,487.95 284.56,486.98 284.62,488.29 284.67,487.14 284.73,486.96 284.78,487.15 284.83,487.27 284.84,488.24 284.89,487.25 284.95,487.84 285,488.3 285.06,487" fill="none" stroke="#142414" stroke-width="1.3" />
<polyline points="285.06,487 285.11,487.35 285.13,486.5 285.17,485.06 285.22,483.59 285.28,481.83 285.33,479.24 285.39,475.19 285.44,474.57 285.44,473.04 285.5,471.22 285.56,472.46 285.61,474.8 285.67,479.59 285.72,482.47 285.75,483.03 285.78,483.97 285.83,485.7 285.89,486.21" fill="none" stroke="#2a3a2a" stroke-width="0.45" />
<polyline points="285.89,486.21 285.94,485.81 286,487.61 286.05,487.85 286.06,486.09 286.11,488.74 286.16,488.31 286.22,487.64 286.27,486.67 286.33,488.4 286.37,487.76 286.38,489.24 286.44,489.6 286.49,488.19 286.55,488.41 286.6,488.88 286.66,489.6 286.68,488.54 286.71,488.86 286.77,488.2 286.82,489.05 286.99,489.55 287.3,489.37 287.61,488.47 287.92,489.59 288.23,489.15 288.54,489.32 288.84,489.62 289.15,488.8 289.46,488.93 289.77,489.17 290.08,490.43 290.39,489.21 290.7,489.93 291.01,490.44 291.32,488.95 291.63,489.77 291.94,489.65 292.25,489.46 292.55,488.68 292.86,489.65 293.17,489.66 293.48,489.12 293.79,490.1 294.1,489.47 294.41,490.01 294.72,489.82 295.03,489.54 295.34,488.81 295.65,489.72 295.96,488.73 296.26,489.8 296.57,489.4 296.88,489.5 297.19,488.65 297.5,489.46 297.81,488.45 298.12,488.44 298.43,489 298.74,488.43 299.05,489.63 299.36,490.1 299.67,489.48 299.97,489.01 300.28,489.6 300.59,488.33 300.9,489.43 301.21,489.17 301.52,489.12 301.83,489.52 302.14,488.79 302.45,489.49 302.76,488.7 303.07,489.01 303.18,489.66 303.23,488.77 303.29,488.16 303.34,488.68 303.38,488.09 303.4,488.13 303.45,487.68 303.51,488.1 303.56,488.37 303.62,488.5 303.67,488.24 303.68,488.26 303.73,487.55 303.78,487.23 303.84,488.09 303.89,488.4 303.95,486.94 303.99,488.38 304,487.4 304.06,487.42 304.11,487.3" fill="none" stroke="#142414" stroke-width="1.3" />
<polyline points="304.11,487.3 304.17,486.24 304.22,484.1 304.28,483.71 304.3,481.91 304.33,481.62 304.39,479.45 304.44,478.13 304.5,477.32 304.56,478.55 304.61,478.8 304.61,479.76 304.67,480.78 304.72,483.83 304.78,485.94 304.83,485.75" fill="none" stroke="#2a3a2a" stroke-width="0.45" />
<polyline points="304.83,485.75 304.89,487.53 304.92,487.18 304.94,487.06 305,487.96 305.05,487.37 305.11,487.62 305.16,488.29 305.22,488.39 305.23,488.34 305.27,488.07 305.33,487.21 305.38,487.46 305.44,487.59 305.49,487.89 305.54,488.86 305.55,488.58 305.6,487.8 305.66,489.63 305.71,488.96 305.77,488.75 305.83,487.77 305.85,488.56 306.16,488.73 306.47,488.43 306.78,488.76 307.09,488.83 307.39,489.51 307.7,489.09 308.01,489.86 308.32,490.12 308.63,489.32 308.94,490.12 309.25,488.93 309.56,488.12 309.87,490.05 310.18,489.05 310.49,489.55 310.8,489.47 311.1,490.85 311.41,489.19 311.72,489.71 312.03,489.34 312.34,488.69 312.65,489.19 312.96,489.52 313.27,489.97 313.58,489.68 313.89,489.91 314.2,489.03 314.51,489.52 314.81,489.86 315.12,489.25 315.43,489.64 315.74,488.02 316.05,488.24 316.36,488.51 316.67,489.26 316.98,489.71 317.29,489.57 317.6,488.67 317.91,489.65 318.22,490.04 318.52,488.95 318.83,489.62 319.14,488.56 319.45,489.89 319.76,489.99 320.07,489.9 320.38,489.05 320.69,488.74 321,488.41 321.31,489.34 321.62,489.79 321.93,490.11 322.23,489.22 322.54,488.78 322.85,489.55 323.16,489.54 323.47,490.47 323.78,490.26 324.09,489.32 324.4,488.36 324.71,488.41" fill="none" stroke="#142414" stroke-width="1.3" />
<polyline points="69.03,490.53 69.17,490.38 69.23,490.29 69.29,490.17 69.33,490.04 69.34,490.02 69.4,489.83 69.45,489.59 69.51,489.29 69.56,488.93 69.62,488.51 69.64,488.27 69.67,488.01 69.73,487.44 69.78,486.79 69.84,486.07 69.89,485.3 69.95,484.47 69.95,484.39 70,483.61 70.06,482.74 70.11,481.87 70.17,480.93 70.22,479.41 70.26,477.1 70.28,475.35 70.33,464.66 70.39,444.34 70.44,420.66 70.5,409.64 70.56,420.65 70.57,426.94 70.61,444.32 70.67,464.63 70.72,475.31 70.78,479.36 70.83,480.87 70.88,481.71 70.89,481.8 70.94,482.66 71,483.52 71.05,484.37 71.11,485.19 71.16,485.96 71.19,486.31 71.22,486.66 71.27,487.3 71.33,487.86 71.38,488.35 71.44,488.77 71.49,489.12 71.5,489.14 71.55,489.4 71.6,489.63 71.66,489.82 71.71,489.96 71.77,490.07 71.81,490.13 71.82,490.15" fill="none" stroke="#72c872" stroke-width="0.8" />
<polyline points="110.14,489.08 110.18,489.01 110.23,488.87 110.29,488.67 110.34,488.42 110.4,488.11 110.45,487.71 110.45,487.68 110.51,487.21 110.56,486.61 110.62,485.9 110.67,485.06 110.73,484.1 110.76,483.41 110.78,483.01 110.84,481.8 110.89,480.49 110.95,479.1 111,477.65 111.06,476.18 111.07,475.81 111.11,474.71 111.17,473.12 111.22,470.54 111.28,463.67 111.33,445.52 111.38,417.16 111.39,411.03 111.44,370.85 111.5,352.15 111.56,370.85 111.61,411.03 111.67,445.51 111.69,455.56 111.72,463.67 111.78,470.54 111.83,473.12 111.89,474.7 111.94,476.17 112,477.64 112,477.71 112.05,479.09 112.11,480.49 112.16,481.8 112.22,483 112.27,484.09 112.31,484.73 112.33,485.06 112.38,485.89 112.44,486.61 112.49,487.2 112.55,487.7 112.6,488.1 112.62,488.18 112.66,488.41 112.71,488.66 112.77,488.86 112.83,489 112.93,489.18" fill="none" stroke="#72c872" stroke-width="0.8" />
<polyline points="134.17,489.33 134.23,489.33 134.26,489.33 134.29,489.33 134.34,489.32 134.4,489.31 134.45,489.3 134.51,489.29 134.56,489.27 134.57,489.27 134.62,489.25 134.67,489.23 134.73,489.2 134.78,489.17 134.84,489.14 134.88,489.11 134.89,489.1 134.95,489.06 135,489.02 135.06,488.98 135.11,488.94 135.17,488.9 135.19,488.88 135.22,488.83 135.28,488.64 135.33,488.14 135.39,487.2 135.44,486.1 135.5,485.59 135.5,485.58 135.56,486.1 135.61,487.2 135.67,488.14 135.72,488.64 135.78,488.83 135.81,488.87 135.83,488.9 135.89,488.94 135.94,488.98 136,489.02 136.05,489.06 136.11,489.1 136.11,489.11 136.16,489.14 136.22,489.17 136.27,489.2 136.33,489.23 136.38,489.25 136.42,489.26 136.44,489.27 136.49,489.28 136.55,489.3 136.6,489.31 136.66,489.32 136.71,489.32 136.73,489.33 136.77,489.33 136.82,489.33 137.04,489.34" fill="none" stroke="#72c872" stroke-width="0.8" />
<polyline points="171.05,489.25 171.17,489.14 171.23,489.06 171.29,488.96 171.34,488.83 171.36,488.78 171.4,488.67 171.45,488.46 171.51,488.2 171.56,487.89 171.62,487.52 171.67,487.11 171.67,487.08 171.73,486.58 171.78,486.01 171.84,485.39 171.89,484.7 171.95,483.98 171.98,483.56 172,483.22 172.06,482.46 172.11,481.69 172.17,480.87 172.22,479.53 172.28,475.95 172.29,475 172.33,466.5 172.39,448.55 172.44,427.63 172.5,417.9 172.56,427.63 172.6,443.17 172.61,448.55 172.67,466.5 172.72,475.95 172.78,479.53 172.83,480.87 172.89,481.69 172.91,481.96 172.94,482.46 173,483.22 173.05,483.98 173.11,484.7 173.16,485.39 173.22,485.99 173.22,486.01 173.27,486.58 173.33,487.08 173.38,487.52 173.44,487.89 173.49,488.2 173.52,488.35 173.55,488.46 173.6,488.67 173.66,488.83 173.71,488.96 173.77,489.06 173.82,489.14 173.83,489.15" fill="none" stroke="#72c872" stroke-width="0.8" />
<polyline points="197.02,489.16 197.18,489 197.23,488.91 197.29,488.81 197.33,488.71 197.34,488.69 197.4,488.54 197.45,488.38 197.51,488.19 197.56,487.99 197.62,487.75 197.64,487.65 197.67,487.5 197.73,487.22 197.78,486.93 197.84,486.62 197.89,486.3 197.95,485.98 197.95,485.98 198,485.66 198.06,485.33 198.11,484.96 198.17,484.37 198.22,483 198.26,481.37 198.28,479.82 198.33,473.72 198.39,465 198.44,456.66 198.5,453.15 198.56,456.66 198.57,458.14 198.61,465 198.67,473.72 198.72,479.82 198.78,483 198.83,484.37 198.88,484.88 198.89,484.96 198.94,485.33 199,485.66 199.05,485.98 199.11,486.3 199.16,486.62 199.19,486.75 199.22,486.93 199.27,487.22 199.33,487.5 199.38,487.75 199.44,487.99 199.49,488.19 199.49,488.2 199.55,488.38 199.6,488.54 199.66,488.69 199.71,488.81 199.77,488.91 199.8,488.96 199.83,489" fill="none" stroke="#72c872" stroke-width="0.8" />
<polyline points="220.18,488.9 220.21,488.83 220.23,488.78 220.29,488.65 220.34,488.49 220.4,488.31 220.45,488.1 220.51,487.85 220.52,487.8 220.56,487.58 220.62,487.28 220.67,486.95 220.73,486.59 220.78,486.21 220.83,485.89 220.84,485.81 220.89,485.4 220.95,484.98 221,484.56 221.06,484.14 221.11,483.66 221.14,483.4 221.17,482.88 221.22,481.11 221.28,476.98 221.33,469.06 221.39,457.73 221.44,446.9 221.45,446.83 221.5,442.34 221.56,446.9 221.61,457.73 221.67,469.06 221.72,476.98 221.75,479.87 221.78,481.11 221.83,482.88 221.89,483.66 221.94,484.14 222,484.56 222.05,484.98 222.06,485.07 222.11,485.4 222.16,485.81 222.22,486.21 222.27,486.59 222.33,486.95 222.37,487.22 222.38,487.28 222.44,487.58 222.49,487.85 222.55,488.1 222.6,488.31 222.66,488.49 222.68,488.56 222.71,488.65 222.77,488.78 222.83,488.9 222.99,489.13" fill="none" stroke="#72c872" stroke-width="0.8" />
<polyline points="263.17,488.79 263.18,488.78 263.23,488.7 263.29,488.58 263.34,488.46 263.4,488.32 263.45,488.18 263.49,488.05 263.51,488.01 263.56,487.84 263.62,487.65 263.67,487.46 263.73,487.26 263.78,487.05 263.8,486.97 263.84,486.84 263.89,486.62 263.95,486.41 264,486.19 264.06,485.94 264.11,485.55 264.11,485.53 264.17,484.7 264.22,482.94 264.28,479.68 264.33,474.67 264.39,468.68 264.42,465.62 264.44,463.61 264.5,461.61 264.56,463.61 264.61,468.68 264.67,474.67 264.72,479.68 264.73,480.29 264.78,482.94 264.83,484.7 264.89,485.53 264.94,485.94 265,486.19 265.04,486.36 265.05,486.41 265.11,486.62 265.16,486.84 265.22,487.05 265.27,487.26 265.33,487.46 265.35,487.53 265.38,487.65 265.44,487.84 265.49,488.01 265.55,488.18 265.6,488.32 265.66,488.46 265.66,488.46 265.71,488.58 265.77,488.7 265.82,488.79 265.97,488.99" fill="none" stroke="#72c872" stroke-width="0.8" />
<polyline points="284.17,488.77 284.21,488.73 284.23,488.7 284.29,488.61 284.34,488.52 284.4,488.43 284.45,488.33 284.51,488.22 284.52,488.2 284.56,488.11 284.62,488 284.67,487.88 284.73,487.76 284.78,487.64 284.83,487.55 284.84,487.52 284.89,487.4 284.95,487.27 285,487.12 285.06,486.88 285.11,486.44 285.13,486.18 285.17,485.58 285.22,484.04 285.28,481.63 285.33,478.47 285.39,475.11 285.44,472.52 285.44,472.48 285.5,471.48 285.56,472.48 285.61,475.11 285.67,478.47 285.72,481.63 285.75,483.12 285.78,484.04 285.83,485.58 285.89,486.44 285.94,486.88 286,487.12 286.05,487.27 286.06,487.3 286.11,487.4 286.16,487.52 286.22,487.64 286.27,487.76 286.33,487.88 286.37,487.97 286.38,488 286.44,488.11 286.49,488.22 286.55,488.33 286.6,488.43 286.66,488.52 286.68,488.56 286.71,488.61 286.77,488.7 286.82,488.77 286.99,488.96" fill="none" stroke="#72c872" stroke-width="0.8" />
<polyline points="303.07,488.91 303.18,488.81 303.23,488.76 303.29,488.7 303.34,488.64 303.38,488.6 303.4,488.57 303.45,488.51 303.51,488.44 303.56,488.37 303.62,488.3 303.67,488.22 303.68,488.21 303.73,488.15 303.78,488.08 303.84,488.01 303.89,487.93 303.95,487.84 303.99,487.72 304,487.69 304.06,487.44 304.11,486.98 304.17,486.19 304.22,484.96 304.28,483.27 304.3,482.45 304.33,481.28 304.39,479.33 304.44,477.89 304.5,477.35 304.56,477.89 304.61,479.33 304.61,479.37 304.67,481.28 304.72,483.27 304.78,484.96 304.83,486.19 304.89,486.98 304.92,487.29 304.94,487.44 305,487.69 305.05,487.84 305.11,487.93 305.16,488.01 305.22,488.08 305.23,488.1 305.27,488.15 305.33,488.22 305.38,488.3 305.44,488.37 305.49,488.44 305.54,488.49 305.55,488.51 305.6,488.57 305.66,488.64 305.71,488.7 305.77,488.76 305.83,488.81 305.85,488.83" fill="none" stroke="#72c872" stroke-width="0.8" />
<rect x="190.7" y="338.75" width="134" height="81.95" fill="#ffffff" />
<polyline points="191.3,410.14 191.55,410.25 191.8,410.35 192.05,410.16 192.3,410.21 192.55,410.14 192.8,410.21 193.05,410.16 193.3,410.21 193.55,410.32 193.8,410.36 194.05,410.22 194.3,410.22 194.55,410.3 194.8,410.17 195.05,410.08 195.3,410.33 195.55,410.09 195.8,410.31 196.05,410.09 196.3,410.41 196.55,410.08 196.8,410.3 197.05,410.37 197.3,410.09 197.55,410.37 197.8,410.11 198.05,410 198.3,410.28 198.55,410.28 198.8,410.18 199.05,409.91 199.3,410.19 199.55,410.16 199.8,410.16 200.05,410.17 200.3,409.99 200.55,410.13 200.8,410.41 201.05,410.38 201.3,410.16 201.55,410.12 201.8,410.25 202.05,410.32 202.3,410.28 202.55,410.07 202.8,410.22 203.05,410.22 203.3,410.37 203.55,410.34 203.8,410.26 204.05,410.34 204.3,410.15 204.55,410.38 204.8,410.15 205.05,410.25 205.3,410.31 205.55,410.09 205.8,410.12 206.05,410 206.3,410.22 206.55,410.19 206.8,410.16 207.05,410.26 207.3,409.96 207.55,410.2 207.8,410.21 208.05,410.17 208.3,410.29 208.55,410.4 208.8,410.15 209.05,410.09 209.3,410.13 209.55,410.21 209.8,410.27 210.05,410.1 210.3,410.32 210.55,410.08 210.8,410.3 211.05,410.25 211.3,410.25 211.55,410.45 211.8,410.17 212.05,410.18 212.3,410.25 212.55,410.3 212.8,410.05 213.05,410.23 213.3,410.11 213.55,410.27 213.8,410.36 214.05,410.21 214.3,410.19 214.55,410.22 214.8,409.86 215.05,410.29 215.3,410.26 215.55,410.22 215.8,410.15 216.05,410.12 216.3,410.18 216.55,410.34 216.8,410.19 217.05,410.36 217.3,409.9 217.55,410.15 217.8,410.23 218.05,410.2 218.3,410.01 218.55,410.12 218.8,410.34 219.05,410.05 219.3,410.09 219.55,410.07 219.8,410.14 220.05,410.27 220.3,410.27 220.55,409.97 220.8,410.37 221.05,410.13 221.3,410.13 221.55,410.39 221.8,410.19 222.05,410.06 222.3,410.13 222.55,410.12 222.8,410.08 223.05,410.16 223.3,410.3 223.55,410.24 223.8,410.05 224.05,410.56 224.3,410.22 224.55,410.59 224.8,411.11 225.05,412.16 225.3,413.47 225.55,415.28 225.8,416.97 226.05,417.49 226.3,417.02 226.55,415.92 226.8,414.09 227.05,412.55 227.3,411.45 227.55,410.78 227.8,410.35 228.05,410.29 228.3,410.02 228.55,409.67 228.8,409.62 229.05,409.17 229.3,409.16 229.55,408.97 229.8,409.33 230.05,409.62 230.3,409.55 230.55,409.88 230.8,410.01 231.05,410.34 231.3,409.98 231.55,410.3 231.8,410.33 232.05,410.26 232.3,410.28 232.55,410.14 232.8,410.2 233.05,410.23 233.3,410.25 233.55,410.28 233.8,410.18 234.05,410.12 234.3,410.14 234.55,410.25 234.8,410.01 235.05,410.06 235.3,410.15 235.55,410.14 235.8,410.17 236.05,409.89 236.3,410.16 236.55,410.17 236.8,410.29 237.05,409.97 237.3,410.16 237.55,410.25 237.8,410.26 238.05,410.34 238.3,410.32 238.55,410.08 238.8,410.27 239.05,410.16 239.3,410.11 239.55,410.38 239.8,410.13 240.05,410.1 240.3,410.15 240.55,410.1 240.8,410.32 241.05,410.24 241.3,410.36 241.55,410.25 241.8,410.13 242.05,410.32 242.3,410.12 242.55,410.15 242.8,410.18 243.05,410.2 243.3,410.34 243.55,410.13 243.8,410.24 244.05,410.2 244.3,410.05 244.55,410.07 244.8,410.17 245.05,410.25 245.3,410.24 245.55,410.26 245.8,410.21 246.05,410.15 246.3,410.25 246.55,410.08 246.8,410.04 247.05,410.16 247.3,410.03 247.55,410.14 247.8,410.11 248.05,410.14 248.3,410.19 248.55,410.11 248.8,410.15 249.05,410 249.3,410.22 249.55,410.1 249.8,410.25 250.05,409.87 250.3,410.11 250.55,410.23 250.8,409.92 251.05,410.16 251.3,410.21 251.55,410.21 251.8,410.03 252.05,410.23 252.3,410.22 252.55,410.09 252.8,410.29 253.05,410.19 253.3,410.2 253.55,410.15 253.8,410.26 254.05,410.21 254.3,410.33 254.55,410.25 254.8,410.13 255.05,410.17 255.3,410.31 255.55,410.16 255.8,410.24 256.05,410.26 256.3,410.18" fill="none" stroke="#c2babe" stroke-width="0.75" />
<polyline points="191.3,404.1 191.55,404.29 191.8,404.29 192.05,404.29 192.3,404.22 192.55,404.37 192.8,404.26 193.05,404.23 193.3,404.22 193.55,404.3 193.8,404.19 194.05,404.2 194.3,404.43 194.55,404.37 194.8,404.35 195.05,404.38 195.3,404.32 195.55,404.14 195.8,404.36 196.05,404.37 196.3,404.31 196.55,404.12 196.8,404.36 197.05,404.37 197.3,404.23 197.55,404.28 197.8,404.33 198.05,404.26 198.3,404.35 198.55,404.27 198.8,404.32 199.05,404.27 199.3,404.15 199.55,404.18 199.8,404.51 200.05,404.28 200.3,404.36 200.55,404.35 200.8,404.39 201.05,404.3 201.3,404.21 201.55,404.26 201.8,404.11 202.05,404.24 202.3,404.32 202.55,404.08 202.8,404.27 203.05,404.31 203.3,404.35 203.55,404.18 203.8,404.2 204.05,404.1 204.3,404.17 204.55,404.29 204.8,404.4 205.05,404.15 205.3,404.35 205.55,404.27 205.8,404.2 206.05,404.41 206.3,404.04 206.55,404.23 206.8,404.25 207.05,404.4 207.3,404.37 207.55,404.4 207.8,404.24 208.05,404.3 208.3,404.33 208.55,404.26 208.8,404.24 209.05,404.2 209.3,404.18 209.55,404.11 209.8,404.36 210.05,404.17 210.3,404.04 210.55,404.22 210.8,404.19 211.05,404.21 211.3,404.33 211.55,404.18 211.8,404.16 212.05,404.12 212.3,404.17 212.55,404.14 212.8,404.18 213.05,404.41 213.3,404.19 213.55,404.09 213.8,404.3 214.05,404.21 214.3,404.2 214.55,404.19 214.8,404.19 215.05,404.17 215.3,404.22 215.55,404.18 215.8,404.2 216.05,404.05 216.3,404.08 216.55,404.02 216.8,404.14 217.05,404.12 217.3,404 217.55,404.07 217.8,404.22 218.05,404.1 218.3,403.9 218.55,403.96 218.8,404 219.05,403.93 219.3,403.94 219.55,403.98 219.8,403.89 220.05,403.76 220.3,403.87 220.55,403.78 220.8,403.76 221.05,403.67 221.3,403.56 221.55,403.53 221.8,403.55 222.05,403.43 222.3,403.24 222.55,403.46 222.8,403.19 223.05,403.11 223.3,403.06 223.55,402.65 223.8,402.69 224.05,402.19 224.3,401.84 224.55,401.12 224.8,400.33 225.05,399.19 225.3,397.71 225.55,395.72 225.8,393.47 226.05,390.89 226.3,387.92 226.55,384.39 226.8,380.94 227.05,377.4 227.3,374.21 227.55,371.61 227.8,369.65 228.05,369.12 228.3,369.57 228.55,371.07 228.8,373.34 229.05,376.17 229.3,379.23 229.55,382.36 229.8,385.67 230.05,388.44 230.3,390.88 230.55,393.21 230.8,395.04 231.05,396.56 231.3,398.01 231.55,399.28 231.8,400.29 232.05,400.91 232.3,401.42 232.55,401.95 232.8,402.26 233.05,402.52 233.3,402.85 233.55,403.02 233.8,403.14 234.05,403.25 234.3,403.34 234.55,403.51 234.8,403.67 235.05,403.6 235.3,403.84 235.55,403.59 235.8,403.77 236.05,403.7 236.3,403.8 236.55,403.85 236.8,403.92 237.05,403.98 237.3,403.87 237.55,403.84 237.8,403.94 238.05,404 238.3,403.93 238.55,404.07 238.8,404.15 239.05,403.92 239.3,404.07 239.55,404.13 239.8,403.91 240.05,404.09 240.3,404.07 240.55,403.98 240.8,404.2 241.05,404.12 241.3,404.08 241.55,404.16 241.8,404.18 242.05,404.19 242.3,404.19 242.55,404.18 242.8,404.06 243.05,404.12 243.3,404.17 243.55,403.95 243.8,404.34 244.05,404.14 244.3,404.1 244.55,404.04 244.8,404.2 245.05,404.19 245.3,404.15 245.55,404.16 245.8,404.13 246.05,404.14 246.3,404.2 246.55,404.16 246.8,404.26 247.05,404.2 247.3,404.22 247.55,404.25 247.8,404.32 248.05,404.27 248.3,404.24 248.55,404.21 248.8,404.16 249.05,404.2 249.3,404.28 249.55,404.25 249.8,404.2 250.05,404.13 250.3,404.12 250.55,404.26 250.8,404.32 251.05,404.27 251.3,404.13 251.55,404.23 251.8,404.26 252.05,404.17 252.3,404.27 252.55,404.23 252.8,404.18 253.05,404.15 253.3,404.31 253.55,404.28 253.8,404.18 254.05,404.17 254.3,404.32 254.55,404.3 254.8,404.23 255.05,404.38 255.3,404.23 255.55,404.18 255.8,404.34 256.05,404.24 256.3,404.29" fill="none" stroke="#98bf98" stroke-width="0.85" />
<polyline points="258.9,410.2 259.15,410.08 259.4,410.06 259.65,410.18 259.9,410.36 260.15,410.08 260.4,410.36 260.65,410.23 260.9,410.07 261.15,410.23 261.4,410.27 261.65,410.09 261.9,409.95 262.15,410.24 262.4,410.07 262.65,410.25 262.9,409.98 263.15,410.18 263.4,410.11 263.65,410.03 263.9,410.17 264.15,410.22 264.4,410.13 264.65,410.06 264.9,410.22 265.15,410 265.4,410.26 265.66,410.26 265.91,410.4 266.16,410.3 266.41,410.24 266.66,410.23 266.91,410.2 267.16,410.05 267.41,410.37 267.66,410.26 267.91,410.17 268.16,410.07 268.41,410.37 268.66,410.26 268.91,410.06 269.16,410.28 269.41,410.42 269.66,410.2 269.91,410.25 270.16,410.15 270.41,410.13 270.66,410.33 270.91,410.56 271.16,410.21 271.41,410.19 271.66,410.29 271.91,410.16 272.16,410.28 272.41,410.3 272.66,410.08 272.91,410.08 273.16,410.19 273.41,410.3 273.66,410.23 273.91,410.34 274.16,410.04 274.41,410.26 274.66,410.13 274.91,410.21 275.16,410.24 275.41,410.09 275.66,410.17 275.91,410.06 276.16,410.23 276.41,410.1 276.66,410.14 276.91,410.23 277.16,410.12 277.41,410.33 277.66,410.13 277.91,410.3 278.16,410.23 278.41,410.08 278.67,410.17 278.92,410.1 279.17,410.16 279.42,410.17 279.67,410.41 279.92,410.15 280.17,410.38 280.42,410.25 280.67,410.05 280.92,409.93 281.17,410.28 281.42,409.97 281.67,410.28 281.92,410.32 282.17,410.25 282.42,410.18 282.67,410.17 282.92,410.23 283.17,410.16 283.42,410.14 283.67,410.16 283.92,410.34 284.17,410.13 284.42,410.24 284.67,410.07 284.92,410.12 285.17,410.04 285.42,410.18 285.67,410.28 285.92,410.24 286.17,410.14 286.42,410.27 286.67,410.16 286.92,410.24 287.17,410.23 287.42,410.26 287.67,409.91 287.92,410.05 288.17,410.29 288.42,410.19 288.67,410.46 288.92,410.17 289.17,410.14 289.42,410.37 289.67,410.26 289.92,410.42 290.17,410.26 290.42,410.18 290.67,410.28 290.92,410.11 291.17,410.15 291.42,410.14 291.68,410.17 291.93,410.29 292.18,410.14 292.43,410.24 292.68,410.14 292.93,410.3 293.18,409.88 293.43,410.18 293.68,410.22 293.93,410.07 294.18,410.32 294.43,410.23 294.68,410.35 294.93,410.31 295.18,410.27 295.43,410.18 295.68,410.07 295.93,410.17 296.18,410.15 296.43,410.23 296.68,410.15 296.93,410.55 297.18,410.01 297.43,410.33 297.68,410.14 297.93,410.14 298.18,410.19 298.43,409.85 298.68,409.19 298.93,408.5 299.18,407.29 299.43,406.03 299.68,405.83 299.93,406.03 300.18,407.06 300.43,408.4 300.68,409.44 300.93,410.25 301.18,411.37 301.43,411.95 301.68,412.36 301.93,412.44 302.18,411.88 302.43,410.92 302.68,410.36 302.93,409.86 303.18,409.75 303.43,408.97 303.68,408.61 303.93,408.6 304.18,409.16 304.43,409.6 304.69,410.35 304.94,410.83 305.19,411.62 305.44,412.18 305.69,412.85 305.94,412.94 306.19,412.64 306.44,411.79 306.69,411.2 306.94,410.61 307.19,410.34 307.44,410.41 307.69,410.25 307.94,410.35 308.19,410.3 308.44,410.31 308.69,410.32 308.94,410.13 309.19,410.29 309.44,410.16 309.69,410.14 309.94,410.34 310.19,410.45 310.44,410.09 310.69,410.4 310.94,410.3 311.19,410.1 311.44,410.23 311.69,410.24 311.94,410.24 312.19,410.16 312.44,410.05 312.69,410.2 312.94,410.3 313.19,410.29 313.44,410.28 313.69,410.33 313.94,410.09 314.19,410.2 314.44,410.24 314.69,410.32 314.94,410.22 315.19,410.26 315.44,410.22 315.69,410.44 315.94,409.95 316.19,410.2 316.44,410.49 316.69,410.23 316.94,409.99 317.19,410.22 317.44,410.03 317.7,410.12 317.95,410.23 318.2,410.4 318.45,410.25 318.7,410.28 318.95,410.32 319.2,410.22 319.45,410.1 319.7,410.19 319.95,410.24 320.2,410.17 320.45,410.12 320.7,410.16 320.95,410.03 321.2,410.08 321.45,410.19 321.7,410.16 321.95,410.2 322.2,410.36 322.45,410.23 322.7,410.2 322.95,410.06 323.2,410.08 323.45,410.24 323.7,410.1 323.95,410.25 324.2,410.08" fill="none" stroke="#c2babe" stroke-width="0.75" />
<polyline points="258.9,403.3 259.15,403.29 259.4,403.37 259.65,403.26 259.9,403.26 260.15,403.3 260.4,403.29 260.65,403.41 260.9,403.26 261.15,403.24 261.4,403.25 261.65,403.31 261.9,403.29 262.15,403.33 262.4,403.17 262.65,403.46 262.9,403.41 263.15,403.27 263.4,403.17 263.65,403.28 263.9,403.29 264.15,403.09 264.4,403.26 264.65,403.14 264.9,403.29 265.15,403.36 265.4,403.33 265.66,403.13 265.91,403.35 266.16,403.32 266.41,403.22 266.66,403.28 266.91,403.36 267.16,403.21 267.41,403.23 267.66,403.19 267.91,403.32 268.16,403.06 268.41,403.33 268.66,403.15 268.91,403.29 269.16,403.09 269.41,403.14 269.66,403.17 269.91,403.27 270.16,403.08 270.41,403.25 270.66,403.15 270.91,403.29 271.16,403.17 271.41,403.23 271.66,403.17 271.91,403.32 272.16,403.15 272.41,403.17 272.66,403.32 272.91,403.17 273.16,403.22 273.41,403.1 273.66,403.17 273.91,402.98 274.16,403.16 274.41,403.09 274.66,403.02 274.91,403.02 275.16,403.22 275.41,403.16 275.66,403 275.91,403.25 276.16,403.05 276.41,403.07 276.66,403.12 276.91,403 277.16,402.96 277.41,403.02 277.66,403.16 277.91,403.14 278.16,402.94 278.41,403.14 278.67,403.05 278.92,403.08 279.17,403.03 279.42,403.05 279.67,402.94 279.92,402.93 280.17,402.94 280.42,402.96 280.67,403.03 280.92,402.87 281.17,403.08 281.42,402.9 281.67,402.89 281.92,402.98 282.17,402.95 282.42,402.88 282.67,402.81 282.92,402.8 283.17,402.74 283.42,402.94 283.67,402.92 283.92,402.96 284.17,402.84 284.42,402.81 284.67,402.83 284.92,402.83 285.17,402.71 285.42,402.74 285.67,402.86 285.92,402.54 286.17,402.54 286.42,402.55 286.67,402.66 286.92,402.67 287.17,402.53 287.42,402.58 287.67,402.49 287.92,402.49 288.17,402.39 288.42,402.39 288.67,402.36 288.92,402.41 289.17,402.45 289.42,402.1 289.67,402.23 289.92,402.14 290.17,402.17 290.42,402.12 290.67,402.04 290.92,401.98 291.17,401.78 291.42,401.65 291.68,401.84 291.93,401.72 292.18,401.47 292.43,401.55 292.68,401.4 292.93,401.05 293.18,401.19 293.43,400.92 293.68,400.94 293.93,400.65 294.18,400.48 294.43,400.24 294.68,400.14 294.93,400.01 295.18,399.62 295.43,399.25 295.68,399.23 295.93,398.83 296.18,398.3 296.43,397.68 296.68,397 296.93,396.19 297.18,395.41 297.43,394.29 297.68,392.65 297.93,390.94 298.18,388.73 298.43,386.11 298.68,383.06 298.93,379.57 299.18,375.24 299.43,370.79 299.68,365.89 299.93,360.69 300.18,355.72 300.43,351.14 300.68,347.77 300.93,345.42 301.18,344.73 301.43,345.56 301.68,347.42 301.93,350.05 302.18,353.03 302.43,356.05 302.68,358.53 302.93,360.79 303.18,362.41 303.43,363.7 303.68,364.95 303.93,365.44 304.18,365.83 304.43,366.37 304.69,366.9 304.94,367.36 305.19,368.29 305.44,369.51 305.69,370.8 305.94,372.55 306.19,374.35 306.44,376.23 306.69,378.16 306.94,380.2 307.19,382.14 307.44,384.11 307.69,385.98 307.94,387.68 308.19,389.39 308.44,391.01 308.69,392.13 308.94,393.42 309.19,394.56 309.44,395.52 309.69,396.31 309.94,397.04 310.19,397.81 310.44,398.35 310.69,398.83 310.94,399.15 311.19,399.62 311.44,399.95 311.69,400.14 311.94,400.44 312.19,400.77 312.44,400.63 312.69,400.99 312.94,400.99 313.19,401.1 313.44,401.31 313.69,401.47 313.94,401.53 314.19,401.52 314.44,401.58 314.69,401.73 314.94,401.84 315.19,401.84 315.44,401.85 315.69,402.16 315.94,402.01 316.19,402.12 316.44,402.14 316.69,402.18 316.94,402.27 317.19,402.28 317.44,402.39 317.7,402.29 317.95,402.3 318.2,402.6 318.45,402.48 318.7,402.57 318.95,402.63 319.2,402.61 319.45,402.6 319.7,402.5 319.95,402.52 320.2,402.74 320.45,402.74 320.7,402.75 320.95,402.6 321.2,402.58 321.45,402.68 321.7,402.69 321.95,402.81 322.2,402.73 322.45,402.95 322.7,402.79 322.95,402.81 323.2,402.94 323.45,402.91 323.7,402.83 323.95,402.97 324.2,403.07" fill="none" stroke="#98bf98" stroke-width="0.85" />
<line x1="190.7" y1="338.75" x2="190.7" y2="420.7" stroke="#666" stroke-width="0.9" />
<line x1="324.7" y1="338.75" x2="324.7" y2="420.7" stroke="#666" stroke-width="0.9" />
<line x1="190.7" y1="420.7" x2="256.3" y2="420.7" stroke="#666" stroke-width="0.9" />
<line x1="258.9" y1="420.7" x2="324.7" y2="420.7" stroke="#666" stroke-width="0.9" />
<line x1="254.9" y1="423.3" x2="258.3" y2="418.1" stroke="#666" stroke-width="0.7" />
<line x1="256.6" y1="423.3" x2="260" y2="418.1" stroke="#666" stroke-width="0.7" />
<line x1="254.9" y1="341.35" x2="258.3" y2="336.15" stroke="#666" stroke-width="0.7" />
<line x1="256.6" y1="341.35" x2="260" y2="336.15" stroke="#666" stroke-width="0.7" />
<line x1="200.3" y1="420.7" x2="200.3" y2="419.3" stroke="#666" stroke-width="0.7" />
<line x1="208.3" y1="420.7" x2="208.3" y2="419.3" stroke="#666" stroke-width="0.7" />
<line x1="225.4" y1="420.7" x2="225.4" y2="419.3" stroke="#666" stroke-width="0.7" />
<line x1="233.4" y1="420.7" x2="233.4" y2="419.3" stroke="#666" stroke-width="0.7" />
<line x1="241.4" y1="420.7" x2="241.4" y2="419.3" stroke="#666" stroke-width="0.7" />
<line x1="278.3" y1="420.7" x2="278.3" y2="419.3" stroke="#666" stroke-width="0.7" />
<line x1="286.6" y1="420.7" x2="286.6" y2="419.3" stroke="#666" stroke-width="0.7" />
<line x1="294.9" y1="420.7" x2="294.9" y2="419.3" stroke="#666" stroke-width="0.7" />
<line x1="311.3" y1="420.7" x2="311.3" y2="419.3" stroke="#666" stroke-width="0.7" />
<line x1="319.5" y1="420.7" x2="319.5" y2="419.3" stroke="#666" stroke-width="0.7" />
<line x1="216.8" y1="420.7" x2="216.8" y2="418.5" stroke="#666" stroke-width="0.7" />
<line x1="249.9" y1="420.7" x2="249.9" y2="418.5" stroke="#666" stroke-width="0.7" />
<line x1="270" y1="420.7" x2="270" y2="418.5" stroke="#666" stroke-width="0.7" />
<line x1="303" y1="420.7" x2="303" y2="418.5" stroke="#666" stroke-width="0.7" />
<line x1="190.7" y1="348.75" x2="192.3" y2="348.75" stroke="#666" stroke-width="0.7" />
<line x1="190.7" y1="359" x2="192.3" y2="359" stroke="#666" stroke-width="0.7" />
<line x1="190.7" y1="369.4" x2="192.3" y2="369.4" stroke="#666" stroke-width="0.7" />
<line x1="190.7" y1="379.6" x2="192.3" y2="379.6" stroke="#666" stroke-width="0.7" />
<line x1="190.7" y1="390" x2="192.3" y2="390" stroke="#666" stroke-width="0.7" />
<line x1="190.7" y1="400.25" x2="192.3" y2="400.25" stroke="#666" stroke-width="0.7" />
<line x1="190.7" y1="410.5" x2="192.3" y2="410.5" stroke="#666" stroke-width="0.7" />
<text x="216.8" y="428.7" font-size="7.4" text-anchor="middle" fill="#222" >22</text>
<text x="249.9" y="428.7" font-size="7.4" text-anchor="middle" fill="#222" >23</text>
<text x="270" y="428.7" font-size="7.4" text-anchor="middle" fill="#222" >31.2</text>
<text x="303" y="428.7" font-size="7.4" text-anchor="middle" fill="#222" >31.8</text>
<text x="243.9" y="366" font-size="9.6" font-weight="bold" fill="#1a1a1a">KNN<tspan font-size="6.8" dy="2.6">ex</tspan></text>
<text x="243.9" y="380.4" font-size="6.7" font-weight="bold" fill="#1a1a1a" >Rwp = 6.45</text>
<rect x="118.3" y="354.4" width="55.9" height="24.4" fill="#fff" stroke="#8a8a8a" stroke-width="0.7"/>
<line x1="119.8" y1="358.7" x2="133.2" y2="358.7" stroke="#7a7a7a" stroke-width="0.8" />
<text x="135.2" y="360.9" font-size="6.3" fill="#222" >Measurement</text>
<line x1="119.8" y1="366.6" x2="133.2" y2="366.6" stroke="#86cc86" stroke-width="0.8" />
<text x="135.2" y="368.8" font-size="6.3" fill="#222" >Refinement</text>
<line x1="119.8" y1="374.7" x2="133.2" y2="374.7" stroke="#b4b4b4" stroke-width="0.8" />
<text x="135.2" y="376.9" font-size="6.3" fill="#222" >Difference</text>
<line x1="59.75" y1="338.75" x2="324.75" y2="338.75" stroke="#3a3a3a" stroke-width="1" />
<line x1="59.75" y1="527.5" x2="324.75" y2="527.5" stroke="#3a3a3a" stroke-width="1" />
<line x1="59.75" y1="338.75" x2="59.75" y2="527.5" stroke="#3a3a3a" stroke-width="1" />
<line x1="324.75" y1="338.75" x2="324.75" y2="527.5" stroke="#3a3a3a" stroke-width="1" />
<line x1="74.47" y1="527.5" x2="74.47" y2="526" stroke="#3a3a3a" stroke-width="0.8" />
<line x1="74.47" y1="338.75" x2="74.47" y2="340.25" stroke="#3a3a3a" stroke-width="0.8" />
<line x1="89.19" y1="527.5" x2="89.19" y2="526" stroke="#3a3a3a" stroke-width="0.8" />
<line x1="89.19" y1="338.75" x2="89.19" y2="340.25" stroke="#3a3a3a" stroke-width="0.8" />
<line x1="103.92" y1="527.5" x2="103.92" y2="525.1" stroke="#3a3a3a" stroke-width="0.8" />
<line x1="103.92" y1="338.75" x2="103.92" y2="341.15" stroke="#3a3a3a" stroke-width="0.8" />
<line x1="118.64" y1="527.5" x2="118.64" y2="526" stroke="#3a3a3a" stroke-width="0.8" />
<line x1="118.64" y1="338.75" x2="118.64" y2="340.25" stroke="#3a3a3a" stroke-width="0.8" />
<line x1="133.36" y1="527.5" x2="133.36" y2="526" stroke="#3a3a3a" stroke-width="0.8" />
<line x1="133.36" y1="338.75" x2="133.36" y2="340.25" stroke="#3a3a3a" stroke-width="0.8" />
<line x1="148.08" y1="527.5" x2="148.08" y2="525.1" stroke="#3a3a3a" stroke-width="0.8" />
<line x1="148.08" y1="338.75" x2="148.08" y2="341.15" stroke="#3a3a3a" stroke-width="0.8" />
<line x1="162.81" y1="527.5" x2="162.81" y2="526" stroke="#3a3a3a" stroke-width="0.8" />
<line x1="162.81" y1="338.75" x2="162.81" y2="340.25" stroke="#3a3a3a" stroke-width="0.8" />
<line x1="177.53" y1="527.5" x2="177.53" y2="526" stroke="#3a3a3a" stroke-width="0.8" />
<line x1="177.53" y1="338.75" x2="177.53" y2="340.25" stroke="#3a3a3a" stroke-width="0.8" />
<line x1="192.25" y1="527.5" x2="192.25" y2="525.1" stroke="#3a3a3a" stroke-width="0.8" />
<line x1="192.25" y1="338.75" x2="192.25" y2="341.15" stroke="#3a3a3a" stroke-width="0.8" />
<line x1="206.97" y1="527.5" x2="206.97" y2="526" stroke="#3a3a3a" stroke-width="0.8" />
<line x1="206.97" y1="338.75" x2="206.97" y2="340.25" stroke="#3a3a3a" stroke-width="0.8" />
<line x1="221.7" y1="527.5" x2="221.7" y2="526" stroke="#3a3a3a" stroke-width="0.8" />
<line x1="221.7" y1="338.75" x2="221.7" y2="340.25" stroke="#3a3a3a" stroke-width="0.8" />
<line x1="236.42" y1="527.5" x2="236.42" y2="525.1" stroke="#3a3a3a" stroke-width="0.8" />
<line x1="236.42" y1="338.75" x2="236.42" y2="341.15" stroke="#3a3a3a" stroke-width="0.8" />
<line x1="251.14" y1="527.5" x2="251.14" y2="526" stroke="#3a3a3a" stroke-width="0.8" />
<line x1="251.14" y1="338.75" x2="251.14" y2="340.25" stroke="#3a3a3a" stroke-width="0.8" />
<line x1="265.86" y1="527.5" x2="265.86" y2="526" stroke="#3a3a3a" stroke-width="0.8" />
<line x1="265.86" y1="338.75" x2="265.86" y2="340.25" stroke="#3a3a3a" stroke-width="0.8" />
<line x1="280.58" y1="527.5" x2="280.58" y2="525.1" stroke="#3a3a3a" stroke-width="0.8" />
<line x1="280.58" y1="338.75" x2="280.58" y2="341.15" stroke="#3a3a3a" stroke-width="0.8" />
<line x1="295.31" y1="527.5" x2="295.31" y2="526" stroke="#3a3a3a" stroke-width="0.8" />
<line x1="295.31" y1="338.75" x2="295.31" y2="340.25" stroke="#3a3a3a" stroke-width="0.8" />
<line x1="310.03" y1="527.5" x2="310.03" y2="526" stroke="#3a3a3a" stroke-width="0.8" />
<line x1="310.03" y1="338.75" x2="310.03" y2="340.25" stroke="#3a3a3a" stroke-width="0.8" />
<line x1="59.75" y1="515.75" x2="61.25" y2="515.75" stroke="#3a3a3a" stroke-width="0.8" />
<line x1="324.75" y1="515.75" x2="323.25" y2="515.75" stroke="#3a3a3a" stroke-width="0.8" />
<line x1="59.75" y1="504" x2="62.15" y2="504" stroke="#3a3a3a" stroke-width="0.8" />
<line x1="324.75" y1="504" x2="322.35" y2="504" stroke="#3a3a3a" stroke-width="0.8" />
<line x1="59.75" y1="492.25" x2="61.25" y2="492.25" stroke="#3a3a3a" stroke-width="0.8" />
<line x1="324.75" y1="492.25" x2="323.25" y2="492.25" stroke="#3a3a3a" stroke-width="0.8" />
<line x1="59.75" y1="480.5" x2="62.15" y2="480.5" stroke="#3a3a3a" stroke-width="0.8" />
<line x1="324.75" y1="480.5" x2="322.35" y2="480.5" stroke="#3a3a3a" stroke-width="0.8" />
<line x1="59.75" y1="468.75" x2="61.25" y2="468.75" stroke="#3a3a3a" stroke-width="0.8" />
<line x1="324.75" y1="468.75" x2="323.25" y2="468.75" stroke="#3a3a3a" stroke-width="0.8" />
<line x1="59.75" y1="457" x2="62.15" y2="457" stroke="#3a3a3a" stroke-width="0.8" />
<line x1="324.75" y1="457" x2="322.35" y2="457" stroke="#3a3a3a" stroke-width="0.8" />
<line x1="59.75" y1="445.25" x2="61.25" y2="445.25" stroke="#3a3a3a" stroke-width="0.8" />
<line x1="324.75" y1="445.25" x2="323.25" y2="445.25" stroke="#3a3a3a" stroke-width="0.8" />
<line x1="59.75" y1="433.5" x2="62.15" y2="433.5" stroke="#3a3a3a" stroke-width="0.8" />
<line x1="324.75" y1="433.5" x2="322.35" y2="433.5" stroke="#3a3a3a" stroke-width="0.8" />
<line x1="59.75" y1="421.75" x2="61.25" y2="421.75" stroke="#3a3a3a" stroke-width="0.8" />
<line x1="324.75" y1="421.75" x2="323.25" y2="421.75" stroke="#3a3a3a" stroke-width="0.8" />
<line x1="59.75" y1="410" x2="62.15" y2="410" stroke="#3a3a3a" stroke-width="0.8" />
<line x1="324.75" y1="410" x2="322.35" y2="410" stroke="#3a3a3a" stroke-width="0.8" />
<line x1="59.75" y1="398.25" x2="61.25" y2="398.25" stroke="#3a3a3a" stroke-width="0.8" />
<line x1="324.75" y1="398.25" x2="323.25" y2="398.25" stroke="#3a3a3a" stroke-width="0.8" />
<line x1="59.75" y1="386.5" x2="62.15" y2="386.5" stroke="#3a3a3a" stroke-width="0.8" />
<line x1="324.75" y1="386.5" x2="322.35" y2="386.5" stroke="#3a3a3a" stroke-width="0.8" />
<line x1="59.75" y1="374.75" x2="61.25" y2="374.75" stroke="#3a3a3a" stroke-width="0.8" />
<line x1="324.75" y1="374.75" x2="323.25" y2="374.75" stroke="#3a3a3a" stroke-width="0.8" />
<line x1="59.75" y1="363" x2="62.15" y2="363" stroke="#3a3a3a" stroke-width="0.8" />
<line x1="324.75" y1="363" x2="322.35" y2="363" stroke="#3a3a3a" stroke-width="0.8" />
<line x1="59.75" y1="351.25" x2="61.25" y2="351.25" stroke="#3a3a3a" stroke-width="0.8" />
<line x1="324.75" y1="351.25" x2="323.25" y2="351.25" stroke="#3a3a3a" stroke-width="0.8" />
<line x1="59.75" y1="339.5" x2="62.15" y2="339.5" stroke="#3a3a3a" stroke-width="0.8" />
<line x1="324.75" y1="339.5" x2="322.35" y2="339.5" stroke="#3a3a3a" stroke-width="0.8" />
<text x="55.2" y="529.5" font-size="7.5" text-anchor="end" fill="#222" >-500</text>
<text x="55.2" y="506" font-size="7.5" text-anchor="end" fill="#222" >0</text>
<text x="55.2" y="482.5" font-size="7.5" text-anchor="end" fill="#222" >500</text>
<text x="55.2" y="459" font-size="7.5" text-anchor="end" fill="#222" >1000</text>
<text x="55.2" y="435.5" font-size="7.5" text-anchor="end" fill="#222" >1500</text>
<text x="55.2" y="412" font-size="7.5" text-anchor="end" fill="#222" >2000</text>
<text x="55.2" y="388.5" font-size="7.5" text-anchor="end" fill="#222" >2500</text>
<text x="55.2" y="365" font-size="7.5" text-anchor="end" fill="#222" >3000</text>
<text x="55.2" y="341.5" font-size="7.5" text-anchor="end" fill="#222" >3500</text>
<text x="59.75" y="538" font-size="7.5" text-anchor="middle" fill="#222" >20</text>
<text x="103.92" y="538" font-size="7.5" text-anchor="middle" fill="#222" >30</text>
<text x="148.08" y="538" font-size="7.5" text-anchor="middle" fill="#222" >40</text>
<text x="192.25" y="538" font-size="7.5" text-anchor="middle" fill="#222" >50</text>
<text x="236.42" y="538" font-size="7.5" text-anchor="middle" fill="#222" >60</text>
<text x="280.59" y="538" font-size="7.5" text-anchor="middle" fill="#222" >70</text>
<text x="324.75" y="538" font-size="7.5" text-anchor="middle" fill="#222" >80</text>
<text x="70.2" y="404.8" font-size="7.2" text-anchor="middle" fill="#222" >(100)</text>
<text x="111.5" y="349.1" font-size="7.2" text-anchor="middle" fill="#222" >(110)</text>
<text x="143.6" y="480.1" font-size="7.2" text-anchor="middle" fill="#222" >(111)</text>
<text x="172.3" y="406.4" font-size="7.2" text-anchor="middle" fill="#222" >(200)</text>
<text x="196.4" y="448.8" font-size="7.2" text-anchor="middle" fill="#222" >(210)</text>
<text x="221.2" y="440.1" font-size="7.2" text-anchor="middle" fill="#222" >(211)</text>
<text x="262.7" y="456.6" font-size="7.2" text-anchor="middle" fill="#222" >(220)</text>
<text x="283.8" y="465.9" font-size="7.2" text-anchor="middle" fill="#222" >(300)</text>
<text x="303.7" y="474.6" font-size="7.2" text-anchor="middle" fill="#222" >(310)</text>
<text x="0" y="0" font-size="10.2" text-anchor="middle" fill="#222" transform="translate(26.4,432.2) rotate(-90)">Intensity / a.u.</text>
<text x="181.3" y="554.6" font-size="10.4" fill="#222">2θ / °</text>
<text x="-1" y="364.3" font-size="20.5" fill="#151515" >(b)</text>
<rect x="404.1" y="452" width="44" height="75.8" fill="#cbc9cd" />
<rect x="448.1" y="365.4" width="44.2" height="66.2" fill="#fdebcb" />
<rect x="448.1" y="435" width="44.2" height="92.8" fill="#fdebcb" />
<rect x="514.3" y="516" width="43.9" height="11.8" fill="#cbc9cd" />
<rect x="558.2" y="402.4" width="43.9" height="29.3" fill="#fdebcb" />
<rect x="558.2" y="435" width="43.9" height="92.8" fill="#fdebcb" />
<text x="468.6" y="417.3" font-size="8.6" font-weight="bold" text-anchor="middle" fill="#e4a62e" >O - T</text>
<text x="580" y="453.2" font-size="8.6" font-weight="bold" text-anchor="middle" fill="#e4a62e" >O - T</text>
<text x="425" y="476.9" font-size="8.8" font-weight="bold" text-anchor="middle" fill="#222" >T - C</text>
<text x="536" y="524.9" font-size="8.8" font-weight="bold" text-anchor="middle" fill="#222" >T - C</text>
<line x1="448.2" y1="377.1" x2="448.2" y2="404.1" stroke="#eccb8a" stroke-width="0.7" />
<line x1="446.6" y1="377.1" x2="449.8" y2="377.1" stroke="#eccb8a" stroke-width="0.7" />
<line x1="446.6" y1="404.1" x2="449.8" y2="404.1" stroke="#eccb8a" stroke-width="0.7" />
<line x1="558.2" y1="362.3" x2="558.2" y2="390.6" stroke="#eccb8a" stroke-width="0.7" />
<line x1="556.6" y1="362.3" x2="559.8" y2="362.3" stroke="#eccb8a" stroke-width="0.7" />
<line x1="556.6" y1="390.6" x2="559.8" y2="390.6" stroke="#eccb8a" stroke-width="0.7" />
<line x1="448.2" y1="459.5" x2="448.2" y2="510.7" stroke="#8a8a8a" stroke-width="0.7" />
<line x1="446.6" y1="459.5" x2="449.8" y2="459.5" stroke="#8a8a8a" stroke-width="0.7" />
<line x1="446.6" y1="510.7" x2="449.8" y2="510.7" stroke="#8a8a8a" stroke-width="0.7" />
<line x1="558.2" y1="437.9" x2="558.2" y2="444.9" stroke="#8a8a8a" stroke-width="0.7" />
<line x1="556.6" y1="437.9" x2="559.8" y2="437.9" stroke="#8a8a8a" stroke-width="0.7" />
<line x1="556.6" y1="444.9" x2="559.8" y2="444.9" stroke="#8a8a8a" stroke-width="0.7" />
<line x1="448.2" y1="390.5" x2="558.2" y2="376.5" stroke="#e6b050" stroke-width="1.0" stroke-dasharray="0.5 5.1" stroke-linecap="round"/>
<line x1="448.2" y1="485.2" x2="558.2" y2="441.8" stroke="#111" stroke-width="1.3" stroke-dasharray="0.4 5.9" stroke-linecap="round"/>
<rect x="446.3" y="388.6" width="3.8" height="3.8" fill="#e3a22a" />
<rect x="556.3" y="374.6" width="3.8" height="3.8" fill="#e3a22a" />
<rect x="446.4" y="483.4" width="3.6" height="3.6" fill="#111" />
<rect x="556.4" y="440" width="3.6" height="3.6" fill="#111" />
<line x1="393.5" y1="338.5" x2="613.75" y2="338.5" stroke="#3a3a3a" stroke-width="1" />
<line x1="393.5" y1="527.8" x2="613.75" y2="527.8" stroke="#3a3a3a" stroke-width="1" />
<line x1="393.5" y1="338.5" x2="393.5" y2="431.2" stroke="#3a3a3a" stroke-width="1" />
<line x1="393.5" y1="436.2" x2="393.5" y2="527.8" stroke="#3a3a3a" stroke-width="1" />
<line x1="613.75" y1="338.5" x2="613.75" y2="527.8" stroke="#4b4bd6" stroke-width="1" />
<line x1="390" y1="433.2" x2="397" y2="429.8" stroke="#3a3a3a" stroke-width="0.9" />
<line x1="390" y1="437.6" x2="397" y2="434.2" stroke="#3a3a3a" stroke-width="0.9" />
<line x1="448.2" y1="338.5" x2="448.2" y2="340.9" stroke="#3a3a3a" stroke-width="0.9" />
<line x1="448.2" y1="527.8" x2="448.2" y2="525.4" stroke="#3a3a3a" stroke-width="0.9" />
<line x1="558.5" y1="338.5" x2="558.5" y2="340.9" stroke="#3a3a3a" stroke-width="0.9" />
<line x1="558.5" y1="527.8" x2="558.5" y2="525.4" stroke="#3a3a3a" stroke-width="0.9" />
<line x1="393.5" y1="346.25" x2="396.5" y2="346.25" stroke="#3a3a3a" stroke-width="0.8" />
<line x1="393.5" y1="369.35" x2="396.5" y2="369.35" stroke="#3a3a3a" stroke-width="0.8" />
<line x1="393.5" y1="392.45" x2="396.5" y2="392.45" stroke="#3a3a3a" stroke-width="0.8" />
<line x1="393.5" y1="415.55" x2="396.5" y2="415.55" stroke="#3a3a3a" stroke-width="0.8" />
<line x1="393.5" y1="440.55" x2="396.5" y2="440.55" stroke="#3a3a3a" stroke-width="0.8" />
<line x1="393.5" y1="463.9" x2="396.5" y2="463.9" stroke="#3a3a3a" stroke-width="0.8" />
<line x1="393.5" y1="487.25" x2="396.5" y2="487.25" stroke="#3a3a3a" stroke-width="0.8" />
<line x1="393.5" y1="510.6" x2="396.5" y2="510.6" stroke="#3a3a3a" stroke-width="0.8" />
<line x1="393.5" y1="353.95" x2="395.3" y2="353.95" stroke="#3a3a3a" stroke-width="0.8" />
<line x1="393.5" y1="361.65" x2="395.3" y2="361.65" stroke="#3a3a3a" stroke-width="0.8" />
<line x1="393.5" y1="377.05" x2="395.3" y2="377.05" stroke="#3a3a3a" stroke-width="0.8" />
<line x1="393.5" y1="384.75" x2="395.3" y2="384.75" stroke="#3a3a3a" stroke-width="0.8" />
<line x1="393.5" y1="400.15" x2="395.3" y2="400.15" stroke="#3a3a3a" stroke-width="0.8" />
<line x1="393.5" y1="407.85" x2="395.3" y2="407.85" stroke="#3a3a3a" stroke-width="0.8" />
<line x1="393.5" y1="423.25" x2="395.3" y2="423.25" stroke="#3a3a3a" stroke-width="0.8" />
<line x1="393.5" y1="448.35" x2="395.3" y2="448.35" stroke="#3a3a3a" stroke-width="0.8" />
<line x1="393.5" y1="456.1" x2="395.3" y2="456.1" stroke="#3a3a3a" stroke-width="0.8" />
<line x1="393.5" y1="471.7" x2="395.3" y2="471.7" stroke="#3a3a3a" stroke-width="0.8" />
<line x1="393.5" y1="479.45" x2="395.3" y2="479.45" stroke="#3a3a3a" stroke-width="0.8" />
<line x1="393.5" y1="495.05" x2="395.3" y2="495.05" stroke="#3a3a3a" stroke-width="0.8" />
<line x1="393.5" y1="502.8" x2="395.3" y2="502.8" stroke="#3a3a3a" stroke-width="0.8" />
<line x1="393.5" y1="518.4" x2="395.3" y2="518.4" stroke="#3a3a3a" stroke-width="0.8" />
<text x="389.8" y="348.85" font-size="7.1" text-anchor="end" fill="#222" >22.5</text>
<text x="389.8" y="371.95" font-size="7.1" text-anchor="end" fill="#222" >21.0</text>
<text x="389.8" y="395.05" font-size="7.1" text-anchor="end" fill="#222" >19.5</text>
<text x="389.8" y="418.15" font-size="7.1" text-anchor="end" fill="#222" >18.0</text>
<text x="389.8" y="443.15" font-size="7.1" text-anchor="end" fill="#222" >6.0</text>
<text x="389.8" y="466.5" font-size="7.1" text-anchor="end" fill="#222" >5.6</text>
<text x="389.8" y="489.85" font-size="7.1" text-anchor="end" fill="#222" >5.2</text>
<text x="389.8" y="513.2" font-size="7.1" text-anchor="end" fill="#222" >4.8</text>
<line x1="613.75" y1="347.8" x2="610.75" y2="347.8" stroke="#4b4bd6" stroke-width="0.8" />
<text x="616.6" y="350.4" font-size="7.2" fill="#4b4bd6" >0.99830</text>
<line x1="613.75" y1="355.76" x2="611.95" y2="355.76" stroke="#4b4bd6" stroke-width="0.8" />
<line x1="613.75" y1="363.73" x2="611.95" y2="363.73" stroke="#4b4bd6" stroke-width="0.8" />
<line x1="613.75" y1="371.69" x2="611.95" y2="371.69" stroke="#4b4bd6" stroke-width="0.8" />
<line x1="613.75" y1="379.65" x2="610.75" y2="379.65" stroke="#4b4bd6" stroke-width="0.8" />
<text x="616.6" y="382.25" font-size="7.2" fill="#4b4bd6" >0.99763</text>
<line x1="613.75" y1="387.61" x2="611.95" y2="387.61" stroke="#4b4bd6" stroke-width="0.8" />
<line x1="613.75" y1="395.58" x2="611.95" y2="395.58" stroke="#4b4bd6" stroke-width="0.8" />
<line x1="613.75" y1="403.54" x2="611.95" y2="403.54" stroke="#4b4bd6" stroke-width="0.8" />
<line x1="613.75" y1="411.5" x2="610.75" y2="411.5" stroke="#4b4bd6" stroke-width="0.8" />
<text x="616.6" y="414.1" font-size="7.2" fill="#4b4bd6" >0.99696</text>
<line x1="613.75" y1="419.46" x2="611.95" y2="419.46" stroke="#4b4bd6" stroke-width="0.8" />
<line x1="613.75" y1="427.43" x2="611.95" y2="427.43" stroke="#4b4bd6" stroke-width="0.8" />
<line x1="613.75" y1="435.39" x2="611.95" y2="435.39" stroke="#4b4bd6" stroke-width="0.8" />
<line x1="613.75" y1="443.35" x2="610.75" y2="443.35" stroke="#4b4bd6" stroke-width="0.8" />
<text x="616.6" y="445.95" font-size="7.2" fill="#4b4bd6" >0.99629</text>
<line x1="613.75" y1="451.31" x2="611.95" y2="451.31" stroke="#4b4bd6" stroke-width="0.8" />
<line x1="613.75" y1="459.28" x2="611.95" y2="459.28" stroke="#4b4bd6" stroke-width="0.8" />
<line x1="613.75" y1="467.24" x2="611.95" y2="467.24" stroke="#4b4bd6" stroke-width="0.8" />
<line x1="613.75" y1="475.2" x2="610.75" y2="475.2" stroke="#4b4bd6" stroke-width="0.8" />
<text x="616.6" y="477.8" font-size="7.2" fill="#4b4bd6" >0.99562</text>
<line x1="613.75" y1="483.16" x2="611.95" y2="483.16" stroke="#4b4bd6" stroke-width="0.8" />
<line x1="613.75" y1="491.13" x2="611.95" y2="491.13" stroke="#4b4bd6" stroke-width="0.8" />
<line x1="613.75" y1="499.09" x2="611.95" y2="499.09" stroke="#4b4bd6" stroke-width="0.8" />
<line x1="613.75" y1="507.05" x2="610.75" y2="507.05" stroke="#4b4bd6" stroke-width="0.8" />
<text x="616.6" y="509.65" font-size="7.2" fill="#4b4bd6" >0.99495</text>
<line x1="613.75" y1="515.01" x2="611.95" y2="515.01" stroke="#4b4bd6" stroke-width="0.8" />
<line x1="613.75" y1="522.98" x2="611.95" y2="522.98" stroke="#4b4bd6" stroke-width="0.8" />
<line x1="613.75" y1="339.84" x2="611.95" y2="339.84" stroke="#4b4bd6" stroke-width="0.8" />
<rect x="400.3" y="347.8" width="40.9" height="23.8" fill="#fff" stroke="#9a9a9a" stroke-width="0.7"/>
<line x1="402.2" y1="353.7" x2="416.5" y2="353.7" stroke="#111" stroke-width="0.9" stroke-dasharray="0.3 5.6" stroke-linecap="round"/>
<line x1="402.2" y1="364.7" x2="416.5" y2="364.7" stroke="#e6b050" stroke-width="0.9" stroke-dasharray="0.3 5.6" stroke-linecap="round"/>
<rect x="407.8" y="352" width="3.4" height="3.4" fill="#111" />
<rect x="407.8" y="363" width="3.4" height="3.4" fill="#e3a22a" />
<text x="419.3" y="356.4" font-size="7" fill="#111">λ<tspan font-size="4.8" dy="1.7">2</tspan><tspan dy="-1.7"> T-C</tspan></text>
<text x="419.3" y="367.4" font-size="7" fill="#111">λ<tspan font-size="4.8" dy="1.7">2</tspan><tspan dy="-1.7"> O-T</tspan></text>
<text x="448.8" y="541" font-size="8.7" text-anchor="middle" fill="#222" >KNN</text>
<text x="543.6" y="541.0" font-size="8.7" fill="#222">KNN<tspan font-size="6.4" dy="2.4">ex</tspan></text>
<text x="0" y="0" font-size="8.4" text-anchor="middle" fill="#222" transform="translate(372.3,433.5) rotate(-90)">Thermal Hysteresis / °C</text>
<text transform="translate(653.2,425.7) rotate(-90)" font-size="8.4" fill="#4b4bd6" text-anchor="middle">λ<tspan font-size="6" dy="1.8">2</tspan></text>
<text x="340.2" y="364.4" font-size="20.5" fill="#151515" >(c)</text>
</svg></body></html>
